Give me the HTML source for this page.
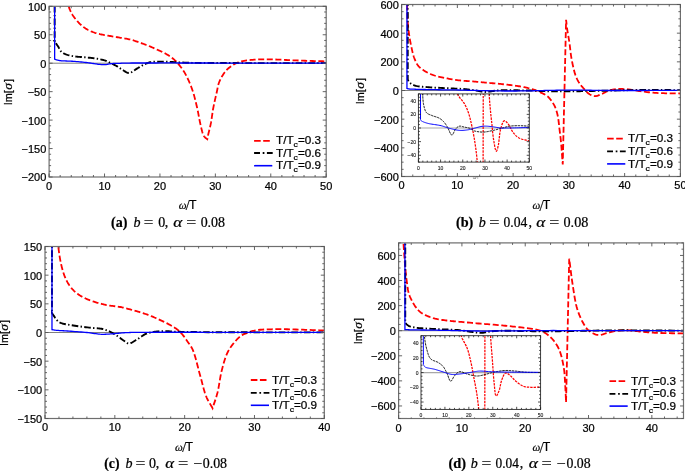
<!DOCTYPE html><html><head><meta charset="utf-8"><style>html,body{margin:0;padding:0;background:#fff;}svg{display:block;will-change:transform;}text{font-family:"Liberation Sans",sans-serif;fill:#000;stroke:#000;stroke-width:0.22px;}</style></head><body>
<svg width="685" height="471" viewBox="0 0 685 471">
<rect width="685" height="471" fill="#fff"/>
<clipPath id="c0"><rect x="49.10" y="6.30" width="277.10" height="170.70"/></clipPath>
<line x1="49.10" y1="63.20" x2="326.20" y2="63.20" stroke="#808080" stroke-width="1.00"/>
<g clip-path="url(#c0)" fill="none">
<path d="M64.06 -27.84 L64.28 -25.53 L64.49 -23.16 L64.69 -20.76 L64.89 -18.35 L65.09 -15.96 L65.30 -13.61 L65.52 -11.32 L65.75 -9.12 L66.01 -7.03 L66.28 -5.08 L66.49 -3.76 L66.69 -2.50 L66.90 -1.27 L67.12 -0.09 L67.34 1.05 L67.58 2.16 L67.83 3.23 L68.09 4.28 L68.37 5.30 L68.66 6.30 L68.92 7.09 L69.18 7.85 L69.45 8.59 L69.73 9.31 L70.02 10.01 L70.31 10.69 L70.62 11.36 L70.94 12.02 L71.26 12.66 L71.60 13.30 L71.91 13.86 L72.23 14.41 L72.56 14.94 L72.90 15.46 L73.24 15.97 L73.59 16.47 L73.95 16.97 L74.32 17.47 L74.70 17.97 L75.09 18.48 L75.52 19.02 L75.95 19.56 L76.40 20.10 L76.86 20.64 L77.33 21.18 L77.80 21.71 L78.29 22.24 L78.78 22.76 L79.29 23.27 L79.80 23.77 L80.34 24.28 L80.89 24.78 L81.44 25.28 L82.01 25.77 L82.59 26.26 L83.17 26.73 L83.77 27.19 L84.38 27.64 L84.99 28.07 L85.62 28.49 L86.27 28.90 L86.94 29.29 L87.61 29.67 L88.30 30.04 L88.99 30.39 L89.70 30.73 L90.41 31.05 L91.14 31.37 L91.87 31.67 L92.60 31.96 L93.38 32.25 L94.18 32.52 L94.98 32.78 L95.79 33.02 L96.61 33.25 L97.44 33.47 L98.27 33.69 L99.11 33.89 L99.96 34.10 L100.81 34.29 L101.70 34.50 L102.61 34.69 L103.52 34.86 L104.43 35.03 L105.36 35.20 L106.28 35.36 L107.22 35.52 L108.16 35.68 L109.11 35.84 L110.06 36.00 L111.09 36.18 L112.13 36.36 L113.19 36.53 L114.25 36.71 L115.32 36.88 L116.39 37.06 L117.45 37.24 L118.51 37.41 L119.56 37.59 L120.59 37.77 L121.56 37.93 L122.52 38.09 L123.47 38.24 L124.42 38.39 L125.36 38.55 L126.30 38.71 L127.23 38.88 L128.16 39.06 L129.09 39.26 L130.01 39.47 L130.92 39.70 L131.81 39.95 L132.69 40.21 L133.57 40.48 L134.45 40.76 L135.33 41.05 L136.21 41.34 L137.09 41.65 L137.98 41.95 L138.88 42.26 L139.84 42.59 L140.81 42.94 L141.79 43.29 L142.77 43.64 L143.75 44.01 L144.74 44.38 L145.72 44.75 L146.70 45.13 L147.67 45.51 L148.63 45.90 L149.58 46.29 L150.53 46.69 L151.47 47.09 L152.41 47.50 L153.35 47.91 L154.28 48.33 L155.21 48.75 L156.13 49.16 L157.04 49.58 L157.94 50.00 L158.79 50.39 L159.64 50.77 L160.48 51.16 L161.31 51.54 L162.14 51.93 L162.96 52.32 L163.78 52.71 L164.58 53.12 L165.37 53.55 L166.15 53.98 L166.89 54.42 L167.63 54.86 L168.36 55.32 L169.09 55.78 L169.81 56.25 L170.51 56.73 L171.19 57.21 L171.86 57.71 L172.51 58.20 L173.13 58.70 L173.66 59.16 L174.17 59.61 L174.67 60.07 L175.14 60.54 L175.61 61.01 L176.07 61.48 L176.52 61.96 L176.96 62.44 L177.40 62.93 L177.84 63.43 L178.28 63.92 L178.70 64.42 L179.12 64.92 L179.54 65.43 L179.95 65.94 L180.35 66.45 L180.75 66.98 L181.15 67.51 L181.55 68.05 L181.94 68.61 L182.36 69.20 L182.77 69.79 L183.17 70.39 L183.57 70.99 L183.97 71.60 L184.37 72.23 L184.77 72.89 L185.17 73.59 L185.57 74.32 L185.99 75.09 L186.61 76.31 L187.25 77.62 L187.92 79.02 L188.59 80.49 L189.26 82.01 L189.92 83.57 L190.57 85.16 L191.20 86.76 L191.80 88.36 L192.36 89.94 L192.92 91.63 L193.46 93.36 L193.97 95.11 L194.46 96.88 L194.93 98.67 L195.38 100.47 L195.82 102.26 L196.24 104.05 L196.66 105.83 L197.07 107.58 L197.45 109.26 L197.81 110.96 L198.14 112.67 L198.47 114.37 L198.78 116.07 L199.10 117.74 L199.41 119.39 L199.73 121.00 L200.05 122.57 L200.40 124.08 L200.69 125.33 L200.98 126.59 L201.26 127.86 L201.56 129.11 L201.85 130.32 L202.15 131.49 L202.46 132.58 L202.78 133.58 L203.10 134.47 L203.44 135.24 L203.63 135.58 L203.81 135.90 L204.00 136.18 L204.19 136.45 L204.38 136.69 L204.58 136.91 L204.78 137.13 L204.98 137.33 L205.18 137.54 L205.38 137.74 L205.56 137.91 L205.75 138.07 L205.94 138.22 L206.12 138.36 L206.31 138.49 L206.51 138.63 L206.70 138.76 L206.89 138.89 L207.08 139.02 L207.27 139.16 L207.27 139.16 L207.33 138.86 L207.38 138.57 L207.43 138.29 L207.49 138.01 L207.54 137.73 L207.59 137.44 L207.65 137.13 L207.72 136.79 L207.79 136.43 L207.88 136.03 L208.09 135.09 L208.35 134.00 L208.64 132.78 L208.97 131.47 L209.31 130.09 L209.66 128.66 L210.00 127.20 L210.34 125.75 L210.65 124.32 L210.93 122.94 L211.18 121.55 L211.41 120.16 L211.63 118.76 L211.83 117.35 L212.03 115.94 L212.23 114.51 L212.43 113.08 L212.65 111.64 L212.88 110.18 L213.14 108.72 L213.46 107.10 L213.79 105.43 L214.15 103.73 L214.52 102.01 L214.90 100.29 L215.28 98.59 L215.66 96.91 L216.04 95.28 L216.40 93.71 L216.75 92.22 L216.99 91.09 L217.21 90.01 L217.41 88.96 L217.61 87.94 L217.80 86.93 L218.02 85.94 L218.26 84.96 L218.53 83.97 L218.86 82.98 L219.24 81.98 L219.73 80.83 L220.28 79.65 L220.88 78.46 L221.53 77.27 L222.21 76.08 L222.91 74.93 L223.64 73.81 L224.39 72.74 L225.14 71.74 L225.89 70.82 L226.51 70.13 L227.14 69.48 L227.79 68.87 L228.44 68.29 L229.11 67.74 L229.79 67.21 L230.47 66.71 L231.16 66.23 L231.85 65.76 L232.54 65.31 L233.17 64.90 L233.80 64.51 L234.41 64.14 L235.04 63.79 L235.66 63.46 L236.31 63.14 L236.98 62.84 L237.68 62.55 L238.41 62.27 L239.19 62.01 L240.31 61.67 L241.49 61.37 L242.73 61.10 L244.03 60.85 L245.37 60.63 L246.74 60.43 L248.15 60.25 L249.58 60.08 L251.03 59.93 L252.49 59.79 L254.28 59.64 L256.14 59.53 L258.06 59.45 L260.02 59.39 L262.01 59.35 L264.01 59.34 L266.02 59.34 L268.01 59.35 L269.97 59.37 L271.89 59.39 L273.70 59.42 L275.49 59.48 L277.28 59.55 L279.05 59.63 L280.82 59.72 L282.59 59.82 L284.35 59.92 L286.11 60.02 L287.86 60.11 L289.62 60.18 L291.35 60.25 L293.06 60.32 L294.76 60.39 L296.46 60.45 L298.16 60.51 L299.87 60.57 L301.58 60.63 L303.30 60.69 L305.04 60.75 L306.80 60.81 L308.69 60.87 L310.61 60.93 L312.54 60.99 L314.48 61.04 L316.43 61.10 L318.38 61.16 L320.34 61.21 L322.30 61.27 L324.25 61.32 L326.20 61.38" stroke="#ff0000" stroke-width="1.80" stroke-dasharray="6 2.6"/>
<path d="M54.64 -164.40 L54.64 41.29 L54.48 41.29 L54.84 41.82 L55.22 42.34 L55.59 42.86 L55.96 43.38 L56.34 43.91 L56.71 44.43 L57.07 44.95 L57.43 45.48 L57.79 46.00 L58.13 46.53 L58.45 47.05 L58.75 47.59 L59.03 48.14 L59.31 48.69 L59.59 49.24 L59.87 49.77 L60.16 50.29 L60.48 50.78 L60.81 51.24 L61.18 51.65 L61.53 51.98 L61.89 52.29 L62.26 52.57 L62.64 52.83 L63.04 53.07 L63.45 53.30 L63.88 53.52 L64.33 53.73 L64.80 53.94 L65.28 54.15 L65.97 54.42 L66.70 54.68 L67.46 54.92 L68.27 55.15 L69.09 55.36 L69.94 55.57 L70.81 55.76 L71.68 55.93 L72.56 56.10 L73.43 56.26 L74.41 56.41 L75.41 56.54 L76.43 56.65 L77.46 56.75 L78.50 56.83 L79.55 56.90 L80.61 56.98 L81.66 57.05 L82.70 57.13 L83.74 57.23 L84.76 57.32 L85.80 57.42 L86.84 57.51 L87.88 57.60 L88.91 57.69 L89.94 57.79 L90.96 57.89 L91.97 58.00 L92.96 58.12 L93.93 58.25 L94.80 58.37 L95.67 58.50 L96.53 58.64 L97.38 58.78 L98.22 58.92 L99.04 59.07 L99.85 59.23 L100.64 59.39 L101.40 59.56 L102.14 59.73 L102.71 59.87 L103.26 60.01 L103.81 60.16 L104.33 60.31 L104.85 60.46 L105.36 60.62 L105.85 60.78 L106.34 60.95 L106.82 61.13 L107.29 61.32 L107.70 61.50 L108.10 61.69 L108.48 61.88 L108.85 62.08 L109.22 62.29 L109.59 62.50 L109.96 62.71 L110.35 62.93 L110.75 63.15 L111.17 63.37 L111.73 63.65 L112.31 63.93 L112.92 64.22 L113.55 64.51 L114.18 64.81 L114.82 65.12 L115.45 65.43 L116.08 65.74 L116.68 66.06 L117.27 66.39 L117.79 66.70 L118.29 67.02 L118.78 67.35 L119.26 67.69 L119.74 68.03 L120.22 68.37 L120.70 68.71 L121.20 69.04 L121.72 69.37 L122.25 69.69 L122.89 70.07 L123.55 70.49 L124.22 70.93 L124.92 71.38 L125.62 71.81 L126.33 72.20 L127.04 72.53 L127.76 72.79 L128.47 72.95 L129.18 72.99 L129.95 72.88 L130.72 72.63 L131.50 72.27 L132.29 71.82 L133.07 71.30 L133.86 70.74 L134.64 70.17 L135.41 69.60 L136.18 69.07 L136.94 68.61 L137.65 68.19 L138.36 67.78 L139.06 67.35 L139.75 66.93 L140.44 66.52 L141.13 66.11 L141.82 65.71 L142.50 65.33 L143.19 64.96 L143.87 64.62 L144.48 64.33 L145.07 64.04 L145.66 63.77 L146.25 63.50 L146.83 63.25 L147.43 63.01 L148.03 62.78 L148.65 62.58 L149.29 62.40 L149.96 62.23 L150.79 62.07 L151.64 61.95 L152.52 61.86 L153.42 61.79 L154.33 61.75 L155.27 61.72 L156.21 61.70 L157.17 61.69 L158.14 61.68 L159.11 61.66 L160.21 61.65 L161.33 61.65 L162.45 61.67 L163.59 61.69 L164.75 61.72 L165.92 61.76 L167.12 61.81 L168.34 61.85 L169.58 61.90 L170.86 61.95 L172.46 62.01 L174.11 62.08 L175.81 62.17 L177.54 62.26 L179.31 62.35 L181.09 62.44 L182.88 62.53 L184.67 62.61 L186.45 62.69 L188.20 62.74 L189.94 62.79 L191.63 62.83 L193.31 62.86 L194.97 62.88 L196.65 62.90 L198.37 62.92 L200.14 62.93 L201.97 62.94 L203.90 62.96 L205.94 62.97 L209.04 62.99 L212.26 63.01 L215.62 63.03 L219.11 63.04 L222.73 63.05 L226.50 63.06 L230.42 63.07 L234.48 63.07 L238.70 63.08 L243.07 63.09 L250.04 63.09 L257.58 63.10 L265.58 63.10 L273.94 63.10 L282.57 63.10 L291.36 63.10 L300.22 63.09 L309.05 63.09 L317.74 63.09 L326.20 63.09" stroke="#000000" stroke-width="1.90" stroke-dasharray="6.6 2.3 1.4 2.3" stroke-dashoffset="6"/>
<path d="M54.64 -164.40 L54.64 59.16 L54.64 59.16 L54.80 59.22 L54.96 59.29 L55.12 59.35 L55.27 59.41 L55.43 59.48 L55.59 59.54 L55.75 59.60 L55.92 59.66 L56.11 59.73 L56.30 59.79 L56.61 59.88 L56.94 59.97 L57.27 60.06 L57.62 60.15 L57.99 60.24 L58.38 60.33 L58.79 60.41 L59.23 60.49 L59.69 60.57 L60.18 60.64 L61.18 60.75 L62.31 60.84 L63.54 60.91 L64.86 60.96 L66.25 61.01 L67.68 61.05 L69.13 61.10 L70.59 61.16 L72.03 61.23 L73.43 61.32 L74.94 61.44 L76.49 61.57 L78.07 61.71 L79.67 61.86 L81.26 62.02 L82.85 62.18 L84.42 62.35 L85.94 62.52 L87.42 62.69 L88.84 62.86 L89.95 63.00 L91.04 63.16 L92.12 63.32 L93.17 63.49 L94.20 63.66 L95.21 63.82 L96.19 63.97 L97.15 64.11 L98.08 64.24 L98.98 64.34 L99.65 64.41 L100.29 64.47 L100.92 64.53 L101.53 64.59 L102.12 64.64 L102.71 64.67 L103.30 64.70 L103.88 64.71 L104.47 64.70 L105.07 64.68 L105.68 64.63 L106.29 64.55 L106.90 64.45 L107.50 64.33 L108.11 64.21 L108.71 64.08 L109.32 63.95 L109.93 63.83 L110.55 63.73 L111.17 63.66 L111.82 63.59 L112.46 63.55 L113.11 63.51 L113.76 63.48 L114.42 63.46 L115.08 63.44 L115.74 63.43 L116.42 63.41 L117.12 63.39 L117.82 63.37 L118.63 63.34 L119.42 63.31 L120.21 63.28 L121.00 63.25 L121.82 63.22 L122.67 63.19 L123.57 63.16 L124.53 63.13 L125.57 63.11 L126.69 63.09 L129.12 63.05 L131.85 63.02 L134.84 63.01 L138.06 62.99 L141.46 62.98 L145.01 62.98 L148.68 62.98 L152.41 62.98 L156.18 62.98 L159.94 62.97 L164.83 62.97 L169.82 62.97 L174.93 62.97 L180.18 62.98 L185.58 62.99 L191.15 63.00 L196.89 63.01 L202.83 63.02 L208.98 63.02 L215.36 63.03 L224.90 63.04 L235.09 63.04 L245.82 63.05 L256.96 63.05 L268.40 63.06 L280.04 63.06 L291.75 63.07 L303.42 63.08 L314.94 63.08 L326.20 63.09" stroke="#0000ff" stroke-width="1.30" />
</g>
<rect x="49.10" y="6.30" width="277.10" height="170.70" fill="none" stroke="#6e6e6e" stroke-width="1.20"/>
<path d="M49.10 177.00v-3.50M49.10 6.30v3.50M60.18 177.00v-2.00M60.18 6.30v2.00M71.27 177.00v-2.00M71.27 6.30v2.00M82.35 177.00v-2.00M82.35 6.30v2.00M93.44 177.00v-2.00M93.44 6.30v2.00M104.52 177.00v-3.50M104.52 6.30v3.50M115.60 177.00v-2.00M115.60 6.30v2.00M126.69 177.00v-2.00M126.69 6.30v2.00M137.77 177.00v-2.00M137.77 6.30v2.00M148.86 177.00v-2.00M148.86 6.30v2.00M159.94 177.00v-3.50M159.94 6.30v3.50M171.02 177.00v-2.00M171.02 6.30v2.00M182.11 177.00v-2.00M182.11 6.30v2.00M193.19 177.00v-2.00M193.19 6.30v2.00M204.28 177.00v-2.00M204.28 6.30v2.00M215.36 177.00v-3.50M215.36 6.30v3.50M226.44 177.00v-2.00M226.44 6.30v2.00M237.53 177.00v-2.00M237.53 6.30v2.00M248.61 177.00v-2.00M248.61 6.30v2.00M259.70 177.00v-2.00M259.70 6.30v2.00M270.78 177.00v-3.50M270.78 6.30v3.50M281.86 177.00v-2.00M281.86 6.30v2.00M292.95 177.00v-2.00M292.95 6.30v2.00M304.03 177.00v-2.00M304.03 6.30v2.00M315.12 177.00v-2.00M315.12 6.30v2.00M326.20 177.00v-3.50M326.20 6.30v3.50M49.10 177.00h3.50M326.20 177.00h-3.50M49.10 171.31h2.00M326.20 171.31h-2.00M49.10 165.62h2.00M326.20 165.62h-2.00M49.10 159.93h2.00M326.20 159.93h-2.00M49.10 154.24h2.00M326.20 154.24h-2.00M49.10 148.55h3.50M326.20 148.55h-3.50M49.10 142.86h2.00M326.20 142.86h-2.00M49.10 137.17h2.00M326.20 137.17h-2.00M49.10 131.48h2.00M326.20 131.48h-2.00M49.10 125.79h2.00M326.20 125.79h-2.00M49.10 120.10h3.50M326.20 120.10h-3.50M49.10 114.41h2.00M326.20 114.41h-2.00M49.10 108.72h2.00M326.20 108.72h-2.00M49.10 103.03h2.00M326.20 103.03h-2.00M49.10 97.34h2.00M326.20 97.34h-2.00M49.10 91.65h3.50M326.20 91.65h-3.50M49.10 85.96h2.00M326.20 85.96h-2.00M49.10 80.27h2.00M326.20 80.27h-2.00M49.10 74.58h2.00M326.20 74.58h-2.00M49.10 68.89h2.00M326.20 68.89h-2.00M49.10 63.20h3.50M326.20 63.20h-3.50M49.10 57.51h2.00M326.20 57.51h-2.00M49.10 51.82h2.00M326.20 51.82h-2.00M49.10 46.13h2.00M326.20 46.13h-2.00M49.10 40.44h2.00M326.20 40.44h-2.00M49.10 34.75h3.50M326.20 34.75h-3.50M49.10 29.06h2.00M326.20 29.06h-2.00M49.10 23.37h2.00M326.20 23.37h-2.00M49.10 17.68h2.00M326.20 17.68h-2.00M49.10 11.99h2.00M326.20 11.99h-2.00M49.10 6.30h3.50M326.20 6.30h-3.50" stroke="#555" stroke-width="0.90" fill="none"/>
<text x="49.10" y="190.30" text-anchor="middle" font-size="11.00">0</text>
<text x="104.52" y="190.30" text-anchor="middle" font-size="11.00">10</text>
<text x="159.94" y="190.30" text-anchor="middle" font-size="11.00">20</text>
<text x="215.36" y="190.30" text-anchor="middle" font-size="11.00">30</text>
<text x="270.78" y="190.30" text-anchor="middle" font-size="11.00">40</text>
<text x="326.20" y="190.30" text-anchor="middle" font-size="11.00">50</text>
<text x="46.30" y="181.46" text-anchor="end" font-size="11.00">−200</text>
<text x="46.30" y="153.01" text-anchor="end" font-size="11.00">−150</text>
<text x="46.30" y="124.56" text-anchor="end" font-size="11.00">−100</text>
<text x="46.30" y="96.11" text-anchor="end" font-size="11.00">−50</text>
<text x="46.30" y="67.66" text-anchor="end" font-size="11.00">0</text>
<text x="46.30" y="39.21" text-anchor="end" font-size="11.00">50</text>
<text x="46.30" y="10.76" text-anchor="end" font-size="11.00">100</text>
<clipPath id="c1"><rect x="401.60" y="4.50" width="278.80" height="172.00"/></clipPath>
<line x1="401.60" y1="90.50" x2="680.40" y2="90.50" stroke="#808080" stroke-width="1.00"/>
<g clip-path="url(#c1)" fill="none">
<path d="M406.90 -38.50 L406.92 -34.11 L406.94 -29.57 L406.96 -24.95 L406.98 -20.30 L407.00 -15.70 L407.02 -11.20 L407.05 -6.87 L407.08 -2.77 L407.13 1.04 L407.18 4.50 L407.21 6.42 L407.23 8.22 L407.26 9.92 L407.28 11.53 L407.31 13.08 L407.35 14.58 L407.39 16.06 L407.45 17.54 L407.53 19.03 L407.62 20.55 L407.73 22.01 L407.84 23.45 L407.97 24.90 L408.11 26.33 L408.26 27.75 L408.42 29.16 L408.59 30.55 L408.76 31.92 L408.94 33.27 L409.13 34.60 L409.30 35.75 L409.47 36.86 L409.64 37.96 L409.82 39.04 L410.01 40.11 L410.21 41.17 L410.41 42.24 L410.62 43.31 L410.85 44.39 L411.08 45.49 L411.33 46.69 L411.59 47.91 L411.85 49.15 L412.12 50.40 L412.41 51.65 L412.70 52.89 L413.02 54.10 L413.35 55.29 L413.71 56.44 L414.09 57.53 L414.43 58.44 L414.78 59.34 L415.13 60.22 L415.50 61.08 L415.88 61.92 L416.28 62.74 L416.71 63.53 L417.16 64.29 L417.64 65.01 L418.16 65.70 L418.67 66.31 L419.21 66.88 L419.78 67.43 L420.37 67.95 L420.97 68.44 L421.60 68.92 L422.24 69.38 L422.90 69.83 L423.56 70.28 L424.24 70.72 L424.97 71.18 L425.71 71.63 L426.47 72.06 L427.24 72.48 L428.02 72.89 L428.83 73.28 L429.66 73.66 L430.50 74.03 L431.37 74.39 L432.27 74.73 L433.36 75.12 L434.49 75.49 L435.65 75.83 L436.84 76.16 L438.06 76.47 L439.30 76.77 L440.56 77.05 L441.84 77.34 L443.13 77.61 L444.42 77.89 L445.92 78.19 L447.46 78.49 L449.03 78.79 L450.63 79.07 L452.25 79.34 L453.86 79.60 L455.48 79.84 L457.07 80.07 L458.63 80.28 L460.15 80.47 L461.48 80.61 L462.79 80.74 L464.08 80.84 L465.35 80.93 L466.62 81.01 L467.88 81.08 L469.14 81.16 L470.41 81.24 L471.69 81.32 L472.97 81.43 L474.30 81.54 L475.64 81.67 L476.98 81.80 L478.32 81.93 L479.66 82.06 L481.01 82.20 L482.35 82.33 L483.69 82.46 L485.03 82.59 L486.36 82.72 L487.65 82.83 L488.93 82.94 L490.21 83.05 L491.49 83.15 L492.77 83.26 L494.04 83.36 L495.32 83.47 L496.60 83.58 L497.89 83.70 L499.18 83.82 L500.51 83.95 L501.86 84.09 L503.23 84.23 L504.59 84.38 L505.95 84.52 L507.31 84.68 L508.66 84.83 L509.98 84.99 L511.29 85.16 L512.56 85.33 L513.67 85.48 L514.76 85.63 L515.84 85.77 L516.90 85.93 L517.95 86.08 L518.99 86.25 L520.03 86.42 L521.06 86.60 L522.11 86.79 L523.16 87.00 L524.23 87.23 L525.33 87.47 L526.43 87.72 L527.54 87.98 L528.64 88.25 L529.73 88.52 L530.79 88.81 L531.82 89.10 L532.81 89.40 L533.75 89.70 L534.46 89.94 L535.14 90.18 L535.79 90.43 L536.43 90.68 L537.05 90.93 L537.66 91.19 L538.26 91.46 L538.87 91.73 L539.48 92.01 L540.11 92.29 L540.77 92.59 L541.44 92.89 L542.12 93.19 L542.80 93.50 L543.48 93.82 L544.15 94.15 L544.79 94.48 L545.42 94.84 L546.02 95.20 L546.58 95.59 L547.03 95.93 L547.47 96.29 L547.88 96.65 L548.27 97.01 L548.65 97.39 L549.01 97.79 L549.38 98.19 L549.74 98.62 L550.11 99.06 L550.48 99.53 L550.95 100.14 L551.42 100.78 L551.90 101.45 L552.38 102.15 L552.84 102.87 L553.30 103.61 L553.74 104.37 L554.17 105.14 L554.57 105.91 L554.94 106.70 L555.30 107.53 L555.64 108.38 L555.96 109.24 L556.26 110.12 L556.54 111.01 L556.80 111.92 L557.05 112.85 L557.28 113.79 L557.51 114.75 L557.73 115.73 L557.96 116.89 L558.17 118.09 L558.36 119.31 L558.52 120.56 L558.68 121.83 L558.82 123.12 L558.96 124.42 L559.10 125.72 L559.25 127.03 L559.40 128.34 L559.58 129.75 L559.75 131.17 L559.93 132.61 L560.11 134.06 L560.28 135.51 L560.45 136.98 L560.62 138.44 L560.78 139.90 L560.93 141.36 L561.07 142.82 L561.21 144.29 L561.34 145.79 L561.46 147.32 L561.58 148.85 L561.69 150.37 L561.80 151.86 L561.90 153.32 L562.00 154.72 L562.10 156.05 L562.19 157.29 L562.25 158.11 L562.31 158.89 L562.37 159.63 L562.43 160.34 L562.48 161.03 L562.53 161.71 L562.59 162.39 L562.64 163.07 L562.69 163.75 L562.75 164.46 L566.09 19.84 L566.09 19.84 L566.20 20.78 L566.30 21.70 L566.41 22.62 L566.51 23.54 L566.61 24.46 L566.71 25.40 L566.82 26.34 L566.94 27.30 L567.07 28.28 L567.21 29.30 L567.39 30.55 L567.60 31.84 L567.82 33.17 L568.06 34.52 L568.30 35.89 L568.54 37.27 L568.78 38.66 L569.01 40.04 L569.23 41.41 L569.44 42.77 L569.62 44.11 L569.79 45.46 L569.95 46.81 L570.11 48.16 L570.26 49.51 L570.41 50.85 L570.57 52.19 L570.74 53.51 L570.91 54.81 L571.11 56.10 L571.30 57.28 L571.50 58.44 L571.71 59.60 L571.92 60.75 L572.14 61.89 L572.36 63.02 L572.59 64.13 L572.83 65.24 L573.08 66.34 L573.34 67.42 L573.59 68.43 L573.83 69.43 L574.08 70.44 L574.33 71.43 L574.60 72.41 L574.87 73.38 L575.16 74.32 L575.46 75.25 L575.79 76.15 L576.13 77.03 L576.44 77.77 L576.77 78.49 L577.11 79.19 L577.46 79.88 L577.83 80.56 L578.20 81.22 L578.58 81.87 L578.98 82.51 L579.39 83.14 L579.81 83.76 L580.23 84.36 L580.67 84.95 L581.12 85.53 L581.58 86.10 L582.06 86.66 L582.54 87.21 L583.02 87.75 L583.51 88.29 L584.00 88.82 L584.49 89.35 L584.97 89.88 L585.45 90.41 L585.93 90.95 L586.42 91.49 L586.91 92.01 L587.40 92.52 L587.91 93.00 L588.43 93.45 L588.96 93.86 L589.51 94.23 L590.03 94.53 L590.57 94.81 L591.11 95.08 L591.67 95.32 L592.24 95.53 L592.81 95.71 L593.38 95.86 L593.95 95.98 L594.52 96.06 L595.09 96.09 L595.64 96.08 L596.19 96.01 L596.73 95.91 L597.28 95.77 L597.83 95.60 L598.38 95.40 L598.94 95.19 L599.50 94.97 L600.08 94.74 L600.66 94.51 L601.40 94.21 L602.16 93.86 L602.93 93.48 L603.72 93.07 L604.52 92.64 L605.32 92.22 L606.12 91.81 L606.91 91.43 L607.70 91.08 L608.47 90.79 L609.14 90.56 L609.80 90.34 L610.46 90.15 L611.10 89.97 L611.75 89.81 L612.40 89.67 L613.07 89.53 L613.75 89.41 L614.44 89.31 L615.16 89.21 L616.05 89.12 L616.98 89.05 L617.94 89.00 L618.93 88.97 L619.92 88.96 L620.91 88.97 L621.89 88.98 L622.85 89.01 L623.77 89.03 L624.64 89.07 L625.30 89.10 L625.93 89.13 L626.53 89.17 L627.11 89.22 L627.69 89.28 L628.27 89.34 L628.86 89.40 L629.46 89.48 L630.10 89.55 L630.77 89.64 L631.71 89.77 L632.68 89.92 L633.68 90.09 L634.72 90.27 L635.77 90.45 L636.86 90.65 L637.96 90.84 L639.08 91.02 L640.22 91.20 L641.37 91.36 L642.75 91.54 L644.15 91.72 L645.58 91.90 L647.03 92.07 L648.51 92.24 L650.02 92.40 L651.56 92.55 L653.14 92.69 L654.76 92.82 L656.42 92.94 L658.59 93.06 L660.86 93.15 L663.20 93.22 L665.61 93.28 L668.06 93.32 L670.54 93.36 L673.03 93.39 L675.52 93.42 L677.98 93.46 L680.40 93.51" stroke="#ff0000" stroke-width="1.80" stroke-dasharray="6 2.6"/>
<path d="M407.73 -38.50 L407.73 79.61 L407.73 79.61 L407.84 79.81 L407.94 80.01 L408.04 80.21 L408.14 80.42 L408.24 80.62 L408.35 80.82 L408.46 81.02 L408.58 81.22 L408.71 81.42 L408.85 81.61 L409.03 81.84 L409.21 82.06 L409.40 82.29 L409.60 82.51 L409.82 82.73 L410.04 82.95 L410.28 83.16 L410.53 83.37 L410.80 83.57 L411.08 83.76 L411.47 84.02 L411.89 84.26 L412.32 84.50 L412.78 84.73 L413.26 84.95 L413.77 85.16 L414.31 85.36 L414.87 85.56 L415.47 85.74 L416.10 85.91 L417.20 86.16 L418.42 86.37 L419.73 86.55 L421.12 86.69 L422.58 86.82 L424.09 86.93 L425.63 87.04 L427.19 87.13 L428.76 87.24 L430.32 87.35 L432.20 87.48 L434.16 87.60 L436.18 87.70 L438.24 87.80 L440.33 87.90 L442.41 87.99 L444.48 88.08 L446.52 88.16 L448.49 88.25 L450.39 88.35 L451.97 88.43 L453.54 88.51 L455.09 88.58 L456.62 88.65 L458.13 88.73 L459.60 88.80 L461.05 88.89 L462.46 88.97 L463.83 89.07 L465.17 89.18 L466.20 89.28 L467.19 89.38 L468.14 89.48 L469.08 89.59 L469.99 89.70 L470.90 89.81 L471.81 89.93 L472.74 90.06 L473.68 90.18 L474.65 90.31 L475.73 90.48 L476.83 90.67 L477.95 90.88 L479.09 91.11 L480.22 91.32 L481.36 91.53 L482.49 91.71 L483.61 91.85 L484.71 91.95 L485.80 91.99 L486.78 91.97 L487.75 91.89 L488.71 91.78 L489.66 91.63 L490.60 91.46 L491.54 91.29 L492.48 91.11 L493.41 90.94 L494.34 90.80 L495.28 90.69 L496.17 90.60 L497.05 90.52 L497.91 90.45 L498.78 90.38 L499.64 90.32 L500.51 90.27 L501.40 90.23 L502.30 90.19 L503.23 90.15 L504.20 90.13 L505.43 90.11 L506.70 90.10 L508.01 90.11 L509.34 90.13 L510.70 90.15 L512.08 90.19 L513.46 90.22 L514.84 90.26 L516.22 90.29 L517.58 90.31 L518.98 90.34 L520.39 90.36 L521.83 90.38 L523.27 90.41 L524.70 90.43 L526.12 90.46 L527.53 90.49 L528.90 90.52 L530.23 90.56 L531.52 90.60 L532.52 90.64 L533.47 90.68 L534.37 90.73 L535.25 90.78 L536.12 90.84 L537.00 90.89 L537.91 90.94 L538.87 90.99 L539.89 91.03 L541.00 91.07 L542.89 91.13 L544.94 91.17 L547.14 91.22 L549.44 91.26 L551.83 91.29 L554.26 91.31 L556.71 91.33 L559.15 91.35 L561.54 91.36 L563.86 91.36 L566.10 91.36 L568.34 91.34 L570.57 91.32 L572.80 91.30 L575.03 91.26 L577.26 91.23 L579.48 91.19 L581.71 91.15 L583.94 91.11 L586.17 91.07 L588.40 91.03 L590.63 90.99 L592.86 90.95 L595.09 90.90 L597.32 90.85 L599.55 90.80 L601.78 90.75 L604.01 90.70 L606.24 90.65 L608.47 90.60 L610.70 90.55 L612.93 90.50 L615.15 90.45 L617.38 90.39 L619.60 90.34 L621.83 90.29 L624.06 90.24 L626.30 90.20 L628.53 90.16 L630.77 90.13 L633.04 90.10 L635.30 90.08 L637.55 90.06 L639.81 90.04 L642.07 90.03 L644.35 90.03 L646.64 90.02 L648.94 90.02 L651.27 90.01 L653.64 90.01 L656.23 90.01 L658.85 90.02 L661.51 90.03 L664.19 90.04 L666.89 90.05 L669.59 90.07 L672.30 90.09 L675.01 90.10 L677.71 90.11 L680.40 90.13" stroke="#000000" stroke-width="1.90" stroke-dasharray="6.6 2.3 1.4 2.3"/>
<path d="M406.95 -38.50 L406.95 88.44 L406.95 88.44 L407.14 88.49 L407.32 88.54 L407.50 88.59 L407.67 88.64 L407.85 88.70 L408.03 88.75 L408.22 88.80 L408.42 88.84 L408.63 88.88 L408.85 88.92 L409.19 88.97 L409.55 89.01 L409.92 89.04 L410.30 89.07 L410.71 89.09 L411.14 89.11 L411.58 89.12 L412.06 89.14 L412.56 89.16 L413.09 89.18 L414.11 89.22 L415.22 89.26 L416.42 89.30 L417.70 89.34 L419.05 89.38 L420.47 89.41 L421.95 89.45 L423.48 89.48 L425.07 89.52 L426.69 89.55 L429.37 89.60 L432.34 89.65 L435.52 89.69 L438.86 89.74 L442.29 89.78 L445.75 89.82 L449.16 89.86 L452.46 89.91 L455.59 89.96 L458.48 90.01 L460.50 90.06 L462.42 90.10 L464.25 90.15 L466.02 90.20 L467.76 90.25 L469.49 90.31 L471.25 90.36 L473.04 90.41 L474.91 90.45 L476.88 90.50 L479.40 90.56 L482.03 90.62 L484.75 90.67 L487.53 90.73 L490.35 90.79 L493.19 90.84 L496.01 90.89 L498.80 90.93 L501.54 90.97 L504.20 90.99 L506.59 91.00 L509.00 91.00 L511.40 91.00 L513.78 90.99 L516.14 90.98 L518.45 90.96 L520.71 90.94 L522.91 90.92 L525.03 90.90 L527.06 90.87 L528.53 90.85 L529.91 90.83 L531.22 90.81 L532.49 90.78 L533.74 90.75 L534.99 90.72 L536.27 90.69 L537.58 90.66 L538.97 90.63 L540.44 90.60 L542.52 90.56 L544.72 90.50 L547.01 90.45 L549.37 90.39 L551.78 90.34 L554.22 90.28 L556.67 90.23 L559.11 90.19 L561.51 90.15 L563.86 90.13 L566.11 90.11 L568.36 90.11 L570.59 90.11 L572.82 90.11 L575.05 90.12 L577.27 90.14 L579.49 90.16 L581.71 90.17 L583.94 90.19 L586.17 90.21 L588.40 90.24 L590.63 90.26 L592.87 90.29 L595.10 90.33 L597.34 90.36 L599.57 90.40 L601.80 90.43 L604.03 90.46 L606.25 90.48 L608.47 90.50 L610.62 90.51 L612.69 90.52 L614.73 90.52 L616.76 90.52 L618.80 90.52 L620.89 90.52 L623.04 90.51 L625.30 90.51 L627.68 90.50 L630.22 90.50 L634.40 90.49 L638.93 90.49 L643.75 90.48 L648.80 90.47 L654.02 90.46 L659.33 90.45 L664.69 90.43 L670.03 90.42 L675.29 90.41 L680.40 90.40" stroke="#0000ff" stroke-width="1.30" />
</g>
<rect x="401.60" y="4.50" width="278.80" height="172.00" fill="none" stroke="#6e6e6e" stroke-width="1.20"/>
<path d="M401.60 176.50v-3.50M401.60 4.50v3.50M412.75 176.50v-2.00M412.75 4.50v2.00M423.90 176.50v-2.00M423.90 4.50v2.00M435.06 176.50v-2.00M435.06 4.50v2.00M446.21 176.50v-2.00M446.21 4.50v2.00M457.36 176.50v-3.50M457.36 4.50v3.50M468.51 176.50v-2.00M468.51 4.50v2.00M479.66 176.50v-2.00M479.66 4.50v2.00M490.82 176.50v-2.00M490.82 4.50v2.00M501.97 176.50v-2.00M501.97 4.50v2.00M513.12 176.50v-3.50M513.12 4.50v3.50M524.27 176.50v-2.00M524.27 4.50v2.00M535.42 176.50v-2.00M535.42 4.50v2.00M546.58 176.50v-2.00M546.58 4.50v2.00M557.73 176.50v-2.00M557.73 4.50v2.00M568.88 176.50v-3.50M568.88 4.50v3.50M580.03 176.50v-2.00M580.03 4.50v2.00M591.18 176.50v-2.00M591.18 4.50v2.00M602.34 176.50v-2.00M602.34 4.50v2.00M613.49 176.50v-2.00M613.49 4.50v2.00M624.64 176.50v-3.50M624.64 4.50v3.50M635.79 176.50v-2.00M635.79 4.50v2.00M646.94 176.50v-2.00M646.94 4.50v2.00M658.10 176.50v-2.00M658.10 4.50v2.00M669.25 176.50v-2.00M669.25 4.50v2.00M680.40 176.50v-3.50M680.40 4.50v3.50M401.60 176.50h3.50M680.40 176.50h-3.50M401.60 169.33h2.00M680.40 169.33h-2.00M401.60 162.17h2.00M680.40 162.17h-2.00M401.60 155.00h2.00M680.40 155.00h-2.00M401.60 147.83h3.50M680.40 147.83h-3.50M401.60 140.67h2.00M680.40 140.67h-2.00M401.60 133.50h2.00M680.40 133.50h-2.00M401.60 126.33h2.00M680.40 126.33h-2.00M401.60 119.17h3.50M680.40 119.17h-3.50M401.60 112.00h2.00M680.40 112.00h-2.00M401.60 104.83h2.00M680.40 104.83h-2.00M401.60 97.67h2.00M680.40 97.67h-2.00M401.60 90.50h3.50M680.40 90.50h-3.50M401.60 83.33h2.00M680.40 83.33h-2.00M401.60 76.17h2.00M680.40 76.17h-2.00M401.60 69.00h2.00M680.40 69.00h-2.00M401.60 61.83h3.50M680.40 61.83h-3.50M401.60 54.67h2.00M680.40 54.67h-2.00M401.60 47.50h2.00M680.40 47.50h-2.00M401.60 40.33h2.00M680.40 40.33h-2.00M401.60 33.17h3.50M680.40 33.17h-3.50M401.60 26.00h2.00M680.40 26.00h-2.00M401.60 18.83h2.00M680.40 18.83h-2.00M401.60 11.67h2.00M680.40 11.67h-2.00M401.60 4.50h3.50M680.40 4.50h-3.50" stroke="#555" stroke-width="0.90" fill="none"/>
<text x="401.60" y="189.00" text-anchor="middle" font-size="11.00">0</text>
<text x="457.36" y="189.00" text-anchor="middle" font-size="11.00">10</text>
<text x="513.12" y="189.00" text-anchor="middle" font-size="11.00">20</text>
<text x="568.88" y="189.00" text-anchor="middle" font-size="11.00">30</text>
<text x="624.64" y="189.00" text-anchor="middle" font-size="11.00">40</text>
<text x="680.40" y="189.00" text-anchor="middle" font-size="11.00">50</text>
<text x="398.80" y="180.96" text-anchor="end" font-size="11.00">−600</text>
<text x="398.80" y="152.29" text-anchor="end" font-size="11.00">−400</text>
<text x="398.80" y="123.63" text-anchor="end" font-size="11.00">−200</text>
<text x="398.80" y="94.96" text-anchor="end" font-size="11.00">0</text>
<text x="398.80" y="66.29" text-anchor="end" font-size="11.00">200</text>
<text x="398.80" y="37.63" text-anchor="end" font-size="11.00">400</text>
<text x="398.80" y="8.96" text-anchor="end" font-size="11.00">600</text>
<clipPath id="c2"><rect x="45.00" y="246.50" width="279.30" height="172.00"/></clipPath>
<line x1="45.00" y1="332.50" x2="324.30" y2="332.50" stroke="#808080" stroke-width="1.00"/>
<g clip-path="url(#c2)" fill="none">
<path d="M56.17 221.50 L56.28 222.96 L56.38 224.43 L56.48 225.91 L56.58 227.40 L56.68 228.87 L56.79 230.34 L56.89 231.79 L57.00 233.21 L57.11 234.60 L57.22 235.95 L57.32 237.06 L57.41 238.15 L57.51 239.21 L57.61 240.26 L57.71 241.29 L57.81 242.31 L57.92 243.32 L58.03 244.34 L58.15 245.36 L58.27 246.39 L58.39 247.41 L58.52 248.45 L58.65 249.49 L58.79 250.53 L58.93 251.57 L59.07 252.60 L59.21 253.61 L59.36 254.61 L59.51 255.59 L59.66 256.53 L59.79 257.32 L59.92 258.09 L60.05 258.83 L60.18 259.57 L60.31 260.29 L60.45 261.01 L60.59 261.73 L60.74 262.45 L60.90 263.19 L61.06 263.93 L61.24 264.73 L61.43 265.54 L61.63 266.36 L61.83 267.19 L62.04 268.02 L62.26 268.84 L62.48 269.65 L62.70 270.44 L62.93 271.21 L63.15 271.96 L63.35 272.57 L63.55 273.17 L63.74 273.76 L63.94 274.34 L64.14 274.90 L64.35 275.46 L64.56 276.02 L64.78 276.57 L65.01 277.13 L65.25 277.69 L65.50 278.26 L65.75 278.83 L66.01 279.39 L66.28 279.96 L66.56 280.52 L66.84 281.08 L67.13 281.63 L67.42 282.18 L67.73 282.72 L68.04 283.25 L68.36 283.77 L68.68 284.28 L69.01 284.79 L69.35 285.30 L69.70 285.79 L70.05 286.29 L70.41 286.77 L70.78 287.25 L71.15 287.72 L71.53 288.18 L71.92 288.63 L72.31 289.07 L72.72 289.51 L73.13 289.94 L73.54 290.36 L73.96 290.78 L74.39 291.19 L74.83 291.59 L75.27 291.98 L75.72 292.37 L76.18 292.75 L76.64 293.12 L77.11 293.49 L77.59 293.84 L78.07 294.19 L78.56 294.54 L79.06 294.88 L79.57 295.21 L80.08 295.54 L80.61 295.86 L81.20 296.21 L81.79 296.55 L82.40 296.89 L83.03 297.22 L83.66 297.55 L84.30 297.87 L84.94 298.18 L85.59 298.48 L86.24 298.78 L86.90 299.07 L87.57 299.37 L88.26 299.65 L88.95 299.93 L89.65 300.21 L90.35 300.47 L91.05 300.73 L91.76 300.99 L92.47 301.23 L93.17 301.48 L93.88 301.71 L94.57 301.94 L95.27 302.16 L95.96 302.37 L96.66 302.58 L97.36 302.78 L98.06 302.97 L98.76 303.16 L99.46 303.35 L100.16 303.54 L100.86 303.72 L101.55 303.90 L102.22 304.07 L102.89 304.24 L103.55 304.40 L104.22 304.56 L104.90 304.72 L105.60 304.88 L106.31 305.03 L107.06 305.18 L107.84 305.32 L108.93 305.50 L110.09 305.67 L111.29 305.82 L112.53 305.96 L113.80 306.10 L115.09 306.24 L116.38 306.40 L117.67 306.57 L118.95 306.77 L120.20 306.99 L121.46 307.24 L122.72 307.51 L123.97 307.80 L125.23 308.11 L126.49 308.43 L127.74 308.76 L129.00 309.10 L130.26 309.45 L131.51 309.79 L132.77 310.14 L134.05 310.49 L135.33 310.85 L136.61 311.21 L137.89 311.57 L139.18 311.94 L140.46 312.33 L141.74 312.72 L143.01 313.13 L144.28 313.55 L145.55 313.98 L146.82 314.44 L148.10 314.92 L149.38 315.41 L150.66 315.91 L151.93 316.43 L153.20 316.95 L154.45 317.48 L155.69 318.02 L156.91 318.55 L158.12 319.08 L159.22 319.58 L160.31 320.08 L161.40 320.59 L162.48 321.10 L163.55 321.61 L164.60 322.13 L165.63 322.64 L166.64 323.16 L167.63 323.67 L168.59 324.19 L169.40 324.62 L170.21 325.06 L171.00 325.49 L171.77 325.92 L172.53 326.35 L173.27 326.79 L174.00 327.23 L174.71 327.67 L175.39 328.13 L176.06 328.60 L176.63 329.02 L177.17 329.43 L177.70 329.84 L178.20 330.26 L178.70 330.68 L179.19 331.12 L179.68 331.57 L180.16 332.04 L180.66 332.54 L181.16 333.07 L181.79 333.78 L182.43 334.54 L183.08 335.33 L183.72 336.17 L184.36 337.02 L185.00 337.90 L185.63 338.78 L186.24 339.66 L186.85 340.53 L187.44 341.39 L188.00 342.18 L188.55 342.95 L189.09 343.69 L189.63 344.44 L190.15 345.19 L190.67 345.97 L191.18 346.80 L191.68 347.69 L192.18 348.65 L192.68 349.70 L193.48 351.65 L194.25 353.85 L195.01 356.26 L195.75 358.84 L196.48 361.53 L197.19 364.28 L197.90 367.04 L198.61 369.77 L199.31 372.41 L200.01 374.93 L200.65 377.20 L201.26 379.51 L201.86 381.82 L202.45 384.12 L203.04 386.39 L203.64 388.62 L204.26 390.79 L204.90 392.87 L205.58 394.85 L206.30 396.71 L206.87 398.04 L207.47 399.29 L208.09 400.48 L208.72 401.62 L209.36 402.72 L210.00 403.80 L210.65 404.88 L211.30 405.96 L211.95 407.05 L212.58 408.18 L212.58 408.18 L213.07 406.65 L213.58 405.13 L214.08 403.63 L214.59 402.13 L215.10 400.62 L215.60 399.10 L216.09 397.56 L216.57 395.98 L217.03 394.37 L217.47 392.70 L217.94 390.67 L218.38 388.56 L218.78 386.38 L219.17 384.15 L219.54 381.90 L219.92 379.64 L220.31 377.39 L220.72 375.17 L221.17 373.01 L221.66 370.91 L222.14 369.02 L222.62 367.13 L223.13 365.24 L223.64 363.36 L224.18 361.52 L224.74 359.71 L225.32 357.96 L225.93 356.27 L226.57 354.66 L227.24 353.14 L227.80 352.00 L228.37 350.92 L228.95 349.88 L229.56 348.88 L230.18 347.92 L230.81 346.98 L231.47 346.06 L232.14 345.16 L232.82 344.28 L233.53 343.39 L234.23 342.54 L234.95 341.68 L235.69 340.83 L236.45 339.99 L237.23 339.18 L238.01 338.40 L238.80 337.65 L239.60 336.95 L240.41 336.30 L241.21 335.71 L241.88 335.26 L242.56 334.86 L243.24 334.50 L243.93 334.16 L244.62 333.86 L245.31 333.57 L246.02 333.29 L246.73 333.03 L247.46 332.77 L248.19 332.50 L248.97 332.22 L249.74 331.95 L250.50 331.69 L251.27 331.44 L252.06 331.20 L252.87 330.98 L253.72 330.76 L254.61 330.57 L255.56 330.38 L256.57 330.21 L258.32 329.97 L260.23 329.77 L262.30 329.62 L264.47 329.49 L266.73 329.40 L269.04 329.33 L271.37 329.28 L273.70 329.24 L275.99 329.20 L278.22 329.17 L280.43 329.16 L282.65 329.16 L284.87 329.19 L287.09 329.23 L289.32 329.29 L291.56 329.35 L293.80 329.42 L296.04 329.49 L298.30 329.57 L300.56 329.63 L302.90 329.70 L305.26 329.78 L307.63 329.86 L310.00 329.95 L312.39 330.04 L314.77 330.13 L317.16 330.22 L319.54 330.32 L321.92 330.41 L324.30 330.49" stroke="#ff0000" stroke-width="1.80" stroke-dasharray="6 2.6"/>
<path d="M51.98 103.17 L51.98 313.58 L51.98 313.18 L52.60 314.03 L53.22 314.92 L53.85 315.84 L54.47 316.77 L55.09 317.68 L55.72 318.56 L56.33 319.39 L56.94 320.15 L57.54 320.82 L58.13 321.38 L58.48 321.66 L58.80 321.91 L59.12 322.12 L59.43 322.31 L59.74 322.47 L60.06 322.62 L60.41 322.77 L60.77 322.91 L61.17 323.05 L61.62 323.21 L62.49 323.49 L63.46 323.75 L64.52 323.99 L65.65 324.23 L66.85 324.45 L68.10 324.67 L69.38 324.88 L70.68 325.09 L71.98 325.30 L73.28 325.51 L74.90 325.76 L76.61 326.01 L78.38 326.26 L80.20 326.51 L82.04 326.74 L83.88 326.97 L85.69 327.19 L87.47 327.41 L89.18 327.61 L90.81 327.80 L92.08 327.93 L93.34 328.04 L94.58 328.14 L95.79 328.23 L96.98 328.31 L98.14 328.40 L99.28 328.51 L100.38 328.64 L101.44 328.80 L102.47 329.00 L103.25 329.19 L104.00 329.38 L104.72 329.59 L105.42 329.81 L106.10 330.04 L106.77 330.29 L107.44 330.55 L108.10 330.82 L108.77 331.11 L109.45 331.41 L110.17 331.75 L110.88 332.10 L111.59 332.47 L112.29 332.86 L113.00 333.26 L113.70 333.68 L114.40 334.10 L115.10 334.54 L115.80 334.98 L116.50 335.42 L117.25 335.92 L118.01 336.44 L118.77 336.99 L119.53 337.55 L120.29 338.11 L121.04 338.68 L121.78 339.22 L122.51 339.75 L123.22 340.24 L123.90 340.70 L124.42 341.05 L124.91 341.42 L125.39 341.79 L125.86 342.16 L126.32 342.50 L126.79 342.82 L127.26 343.09 L127.75 343.30 L128.26 343.44 L128.79 343.51 L129.48 343.46 L130.20 343.29 L130.95 343.01 L131.72 342.65 L132.50 342.22 L133.29 341.74 L134.09 341.24 L134.89 340.73 L135.68 340.24 L136.47 339.78 L137.34 339.27 L138.21 338.71 L139.09 338.12 L139.97 337.50 L140.86 336.88 L141.74 336.27 L142.62 335.69 L143.49 335.14 L144.35 334.64 L145.20 334.22 L145.87 333.92 L146.53 333.66 L147.17 333.42 L147.80 333.20 L148.43 333.01 L149.07 332.83 L149.73 332.67 L150.40 332.51 L151.10 332.36 L151.83 332.21 L152.80 332.03 L153.80 331.87 L154.84 331.72 L155.91 331.59 L157.01 331.47 L158.12 331.37 L159.25 331.29 L160.38 331.22 L161.52 331.16 L162.66 331.12 L163.88 331.11 L165.10 331.12 L166.33 331.17 L167.56 331.23 L168.81 331.31 L170.08 331.40 L171.39 331.48 L172.73 331.57 L174.13 331.64 L175.57 331.70 L177.56 331.76 L179.60 331.81 L181.68 331.85 L183.83 331.90 L186.05 331.94 L188.36 331.97 L190.76 332.01 L193.26 332.04 L195.87 332.07 L198.62 332.10 L203.19 332.14 L208.13 332.18 L213.39 332.21 L218.91 332.24 L224.63 332.26 L230.51 332.27 L236.49 332.29 L242.52 332.30 L248.53 332.32 L254.48 332.33 L261.14 332.34 L267.94 332.35 L274.85 332.35 L281.84 332.35 L288.90 332.34 L296.00 332.34 L303.11 332.34 L310.21 332.33 L317.28 332.33 L324.30 332.33" stroke="#000000" stroke-width="1.90" stroke-dasharray="6.6 2.3 1.4 2.3" stroke-dashoffset="4"/>
<path d="M51.98 103.17 L51.98 329.63 L51.98 329.63 L52.32 329.69 L52.65 329.75 L52.96 329.81 L53.28 329.87 L53.60 329.93 L53.93 329.98 L54.27 330.04 L54.64 330.10 L55.04 330.15 L55.47 330.21 L56.36 330.30 L57.35 330.38 L58.42 330.46 L59.57 330.54 L60.78 330.61 L62.04 330.68 L63.34 330.76 L64.67 330.83 L66.01 330.92 L67.34 331.01 L69.12 331.13 L70.99 331.26 L72.94 331.40 L74.95 331.54 L76.99 331.69 L79.05 331.84 L81.09 331.99 L83.09 332.16 L85.03 332.32 L86.90 332.50 L88.45 332.67 L89.98 332.87 L91.49 333.08 L92.97 333.30 L94.43 333.52 L95.87 333.73 L97.31 333.92 L98.73 334.08 L100.15 334.20 L101.56 334.28 L102.86 334.30 L104.14 334.30 L105.42 334.26 L106.69 334.20 L107.95 334.12 L109.20 334.03 L110.44 333.93 L111.68 333.83 L112.90 333.74 L114.13 333.65 L115.26 333.56 L116.36 333.47 L117.45 333.36 L118.52 333.25 L119.60 333.14 L120.68 333.03 L121.78 332.93 L122.91 332.83 L124.08 332.75 L125.30 332.67 L126.85 332.60 L128.42 332.54 L130.01 332.49 L131.64 332.45 L133.31 332.42 L135.04 332.40 L136.84 332.38 L138.72 332.37 L140.69 332.35 L142.75 332.33 L146.17 332.30 L149.81 332.28 L153.66 332.27 L157.70 332.26 L161.91 332.26 L166.26 332.26 L170.73 332.26 L175.30 332.27 L179.95 332.27 L184.65 332.27 L190.91 332.27 L197.48 332.27 L204.29 332.28 L211.30 332.29 L218.45 332.29 L225.69 332.30 L232.97 332.31 L240.23 332.32 L247.41 332.32 L254.48 332.33 L261.46 332.33 L268.44 332.33 L275.42 332.33 L282.40 332.33 L289.39 332.33 L296.37 332.33 L303.35 332.33 L310.33 332.33 L317.32 332.33 L324.30 332.33" stroke="#0000ff" stroke-width="1.30" />
</g>
<rect x="45.00" y="246.50" width="279.30" height="172.00" fill="none" stroke="#6e6e6e" stroke-width="1.20"/>
<path d="M45.00 418.50v-3.50M45.00 246.50v3.50M58.97 418.50v-2.00M58.97 246.50v2.00M72.93 418.50v-2.00M72.93 246.50v2.00M86.90 418.50v-2.00M86.90 246.50v2.00M100.86 418.50v-2.00M100.86 246.50v2.00M114.83 418.50v-3.50M114.83 246.50v3.50M128.79 418.50v-2.00M128.79 246.50v2.00M142.75 418.50v-2.00M142.75 246.50v2.00M156.72 418.50v-2.00M156.72 246.50v2.00M170.69 418.50v-2.00M170.69 246.50v2.00M184.65 418.50v-3.50M184.65 246.50v3.50M198.62 418.50v-2.00M198.62 246.50v2.00M212.58 418.50v-2.00M212.58 246.50v2.00M226.55 418.50v-2.00M226.55 246.50v2.00M240.51 418.50v-2.00M240.51 246.50v2.00M254.48 418.50v-3.50M254.48 246.50v3.50M268.44 418.50v-2.00M268.44 246.50v2.00M282.40 418.50v-2.00M282.40 246.50v2.00M296.37 418.50v-2.00M296.37 246.50v2.00M310.33 418.50v-2.00M310.33 246.50v2.00M324.30 418.50v-3.50M324.30 246.50v3.50M45.00 418.50h3.50M324.30 418.50h-3.50M45.00 412.77h2.00M324.30 412.77h-2.00M45.00 407.03h2.00M324.30 407.03h-2.00M45.00 401.30h2.00M324.30 401.30h-2.00M45.00 395.57h2.00M324.30 395.57h-2.00M45.00 389.83h3.50M324.30 389.83h-3.50M45.00 384.10h2.00M324.30 384.10h-2.00M45.00 378.37h2.00M324.30 378.37h-2.00M45.00 372.63h2.00M324.30 372.63h-2.00M45.00 366.90h2.00M324.30 366.90h-2.00M45.00 361.17h3.50M324.30 361.17h-3.50M45.00 355.43h2.00M324.30 355.43h-2.00M45.00 349.70h2.00M324.30 349.70h-2.00M45.00 343.97h2.00M324.30 343.97h-2.00M45.00 338.23h2.00M324.30 338.23h-2.00M45.00 332.50h3.50M324.30 332.50h-3.50M45.00 326.77h2.00M324.30 326.77h-2.00M45.00 321.03h2.00M324.30 321.03h-2.00M45.00 315.30h2.00M324.30 315.30h-2.00M45.00 309.57h2.00M324.30 309.57h-2.00M45.00 303.83h3.50M324.30 303.83h-3.50M45.00 298.10h2.00M324.30 298.10h-2.00M45.00 292.37h2.00M324.30 292.37h-2.00M45.00 286.63h2.00M324.30 286.63h-2.00M45.00 280.90h2.00M324.30 280.90h-2.00M45.00 275.17h3.50M324.30 275.17h-3.50M45.00 269.43h2.00M324.30 269.43h-2.00M45.00 263.70h2.00M324.30 263.70h-2.00M45.00 257.97h2.00M324.30 257.97h-2.00M45.00 252.23h2.00M324.30 252.23h-2.00M45.00 246.50h3.50M324.30 246.50h-3.50" stroke="#555" stroke-width="0.90" fill="none"/>
<text x="45.00" y="431.00" text-anchor="middle" font-size="11.00">0</text>
<text x="114.83" y="431.00" text-anchor="middle" font-size="11.00">10</text>
<text x="184.65" y="431.00" text-anchor="middle" font-size="11.00">20</text>
<text x="254.48" y="431.00" text-anchor="middle" font-size="11.00">30</text>
<text x="324.30" y="431.00" text-anchor="middle" font-size="11.00">40</text>
<text x="42.20" y="422.96" text-anchor="end" font-size="11.00">−150</text>
<text x="42.20" y="394.29" text-anchor="end" font-size="11.00">−100</text>
<text x="42.20" y="365.63" text-anchor="end" font-size="11.00">−50</text>
<text x="42.20" y="336.96" text-anchor="end" font-size="11.00">0</text>
<text x="42.20" y="308.29" text-anchor="end" font-size="11.00">50</text>
<text x="42.20" y="279.63" text-anchor="end" font-size="11.00">100</text>
<text x="42.20" y="250.96" text-anchor="end" font-size="11.00">150</text>
<clipPath id="c3"><rect x="398.60" y="242.90" width="284.90" height="175.60"/></clipPath>
<line x1="398.60" y1="330.70" x2="683.50" y2="330.70" stroke="#808080" stroke-width="1.00"/>
<g clip-path="url(#c3)" fill="none">
<path d="M403.03 235.37 L403.08 236.25 L403.13 237.11 L403.18 237.97 L403.23 238.83 L403.28 239.70 L403.32 240.56 L403.38 241.44 L403.43 242.33 L403.48 243.23 L403.54 244.15 L403.60 245.22 L403.67 246.29 L403.74 247.38 L403.81 248.48 L403.89 249.60 L403.96 250.73 L404.04 251.88 L404.12 253.05 L404.21 254.24 L404.30 255.44 L404.41 256.90 L404.52 258.42 L404.64 259.98 L404.76 261.57 L404.89 263.17 L405.02 264.78 L405.15 266.36 L405.29 267.92 L405.43 269.43 L405.56 270.87 L405.68 272.04 L405.80 273.17 L405.91 274.28 L406.03 275.37 L406.15 276.44 L406.27 277.50 L406.40 278.56 L406.54 279.62 L406.68 280.69 L406.83 281.78 L406.99 282.92 L407.14 284.07 L407.30 285.24 L407.46 286.42 L407.63 287.59 L407.81 288.75 L408.00 289.88 L408.22 290.99 L408.46 292.05 L408.73 293.07 L408.97 293.88 L409.22 294.65 L409.49 295.40 L409.76 296.12 L410.05 296.83 L410.36 297.53 L410.67 298.23 L411.00 298.93 L411.35 299.63 L411.71 300.35 L412.11 301.13 L412.54 301.93 L412.98 302.73 L413.44 303.54 L413.92 304.35 L414.41 305.14 L414.90 305.90 L415.40 306.64 L415.90 307.34 L416.39 308.00 L416.79 308.50 L417.18 308.98 L417.58 309.44 L417.97 309.88 L418.37 310.31 L418.78 310.72 L419.21 311.12 L419.64 311.51 L420.09 311.89 L420.57 312.26 L421.10 312.65 L421.65 313.03 L422.21 313.39 L422.80 313.74 L423.39 314.08 L424.01 314.40 L424.63 314.72 L425.27 315.04 L425.92 315.34 L426.58 315.65 L427.36 315.99 L428.15 316.33 L428.96 316.66 L429.78 316.98 L430.62 317.29 L431.48 317.59 L432.36 317.87 L433.27 318.15 L434.19 318.41 L435.13 318.66 L436.30 318.93 L437.53 319.19 L438.80 319.42 L440.10 319.63 L441.42 319.82 L442.76 320.01 L444.09 320.18 L445.41 320.35 L446.71 320.51 L447.98 320.67 L449.13 320.81 L450.25 320.93 L451.34 321.05 L452.41 321.16 L453.50 321.26 L454.59 321.36 L455.72 321.46 L456.88 321.57 L458.10 321.68 L459.38 321.79 L461.26 321.97 L463.25 322.15 L465.34 322.33 L467.51 322.52 L469.73 322.72 L471.98 322.91 L474.24 323.11 L476.50 323.30 L478.73 323.49 L480.90 323.68 L483.05 323.86 L485.21 324.03 L487.38 324.21 L489.56 324.38 L491.73 324.55 L493.88 324.72 L496.00 324.90 L498.09 325.07 L500.13 325.25 L502.11 325.43 L503.76 325.59 L505.36 325.74 L506.91 325.89 L508.45 326.05 L509.96 326.20 L511.47 326.36 L512.97 326.53 L514.50 326.70 L516.04 326.88 L517.62 327.06 L519.38 327.26 L521.20 327.46 L523.06 327.66 L524.94 327.87 L526.81 328.08 L528.66 328.31 L530.46 328.56 L532.19 328.83 L533.83 329.12 L535.35 329.45 L536.38 329.69 L537.35 329.92 L538.28 330.16 L539.18 330.41 L540.04 330.67 L540.89 330.95 L541.72 331.26 L542.55 331.62 L543.38 332.01 L544.22 332.46 L545.16 333.01 L546.10 333.62 L547.03 334.28 L547.96 334.98 L548.88 335.72 L549.78 336.50 L550.65 337.30 L551.49 338.14 L552.31 338.99 L553.08 339.86 L553.84 340.77 L554.56 341.70 L555.26 342.65 L555.93 343.64 L556.57 344.65 L557.19 345.70 L557.78 346.78 L558.35 347.90 L558.89 349.06 L559.41 350.27 L560.02 351.83 L560.58 353.49 L561.11 355.24 L561.60 357.05 L562.06 358.90 L562.48 360.77 L562.86 362.64 L563.22 364.50 L563.54 366.32 L563.84 368.08 L564.08 369.64 L564.27 371.17 L564.43 372.69 L564.56 374.19 L564.67 375.69 L564.76 377.19 L564.84 378.70 L564.92 380.23 L565.01 381.79 L565.11 383.38 L565.22 385.18 L565.33 387.02 L565.43 388.88 L565.52 390.76 L565.61 392.66 L565.70 394.57 L565.79 396.49 L565.88 398.40 L565.97 400.30 L566.06 402.19 L569.22 258.70 L569.22 258.70 L569.57 261.33 L569.90 263.97 L570.23 266.61 L570.56 269.26 L570.89 271.90 L571.23 274.54 L571.57 277.16 L571.93 279.77 L572.31 282.35 L572.71 284.92 L573.09 287.37 L573.46 289.84 L573.84 292.32 L574.23 294.78 L574.63 297.23 L575.05 299.64 L575.51 302.00 L576.00 304.29 L576.54 306.50 L577.14 308.62 L577.67 310.31 L578.23 311.96 L578.82 313.59 L579.43 315.17 L580.07 316.71 L580.72 318.20 L581.39 319.63 L582.08 321.01 L582.77 322.31 L583.47 323.55 L583.99 324.44 L584.51 325.30 L585.03 326.13 L585.55 326.92 L586.08 327.68 L586.64 328.40 L587.22 329.09 L587.83 329.74 L588.47 330.37 L589.17 330.95 L589.93 331.52 L590.73 332.08 L591.58 332.61 L592.46 333.10 L593.37 333.56 L594.29 333.96 L595.23 334.32 L596.17 334.60 L597.10 334.82 L598.03 334.96 L598.95 335.01 L599.88 334.95 L600.82 334.81 L601.77 334.60 L602.72 334.35 L603.68 334.06 L604.64 333.76 L605.60 333.47 L606.56 333.19 L607.53 332.96 L608.52 332.73 L609.52 332.49 L610.51 332.23 L611.51 331.97 L612.51 331.72 L613.52 331.47 L614.53 331.24 L615.56 331.03 L616.60 330.85 L617.66 330.70 L618.81 330.58 L619.98 330.48 L621.17 330.41 L622.37 330.36 L623.58 330.34 L624.80 330.33 L626.02 330.34 L627.24 330.36 L628.47 330.40 L629.69 330.45 L630.94 330.52 L632.19 330.63 L633.44 330.75 L634.70 330.90 L635.96 331.06 L637.22 331.23 L638.49 331.39 L639.77 331.55 L641.05 331.70 L642.35 331.83 L643.69 331.95 L645.02 332.07 L646.33 332.18 L647.65 332.28 L648.98 332.39 L650.34 332.49 L651.73 332.58 L653.18 332.67 L654.69 332.75 L656.28 332.83 L658.63 332.93 L661.14 333.02 L663.78 333.09 L666.51 333.15 L669.32 333.20 L672.18 333.25 L675.05 333.30 L677.91 333.35 L680.74 333.40 L683.50 333.46" stroke="#ff0000" stroke-width="1.80" stroke-dasharray="6 2.6"/>
<path d="M405.25 230.36 L405.25 322.80 L405.25 322.80 L405.40 322.96 L405.56 323.13 L405.71 323.29 L405.85 323.46 L406.00 323.62 L406.16 323.78 L406.32 323.95 L406.48 324.11 L406.65 324.27 L406.83 324.43 L407.05 324.61 L407.26 324.80 L407.48 324.98 L407.71 325.17 L407.94 325.35 L408.19 325.53 L408.45 325.70 L408.73 325.87 L409.04 326.03 L409.36 326.18 L409.93 326.41 L410.54 326.61 L411.21 326.80 L411.92 326.97 L412.67 327.13 L413.46 327.28 L414.28 327.42 L415.14 327.55 L416.04 327.68 L416.96 327.82 L418.50 328.01 L420.17 328.17 L421.96 328.31 L423.84 328.44 L425.79 328.56 L427.80 328.66 L429.84 328.76 L431.89 328.86 L433.93 328.96 L435.95 329.07 L438.24 329.19 L440.63 329.29 L443.09 329.39 L445.58 329.48 L448.08 329.57 L450.54 329.67 L452.94 329.77 L455.23 329.89 L457.39 330.03 L459.38 330.20 L460.62 330.33 L461.80 330.47 L462.92 330.62 L463.99 330.78 L465.02 330.94 L466.04 331.10 L467.04 331.26 L468.05 331.42 L469.08 331.57 L470.14 331.70 L471.22 331.84 L472.29 332.00 L473.37 332.15 L474.45 332.31 L475.52 332.46 L476.60 332.59 L477.68 332.70 L478.75 332.78 L479.83 332.83 L480.90 332.83 L481.98 332.78 L483.05 332.69 L484.12 332.55 L485.19 332.38 L486.27 332.19 L487.34 331.99 L488.41 331.80 L489.49 331.61 L490.58 331.45 L491.67 331.33 L492.77 331.22 L493.86 331.13 L494.94 331.05 L496.02 330.97 L497.11 330.91 L498.22 330.85 L499.36 330.80 L500.54 330.76 L501.77 330.73 L503.06 330.70 L504.98 330.68 L507.00 330.68 L509.13 330.71 L511.33 330.75 L513.59 330.81 L515.90 330.87 L518.24 330.93 L520.58 330.99 L522.91 331.04 L525.22 331.08 L527.69 331.11 L530.21 331.15 L532.75 331.18 L535.31 331.22 L537.88 331.25 L540.46 331.28 L543.02 331.31 L545.56 331.32 L548.08 331.33 L550.55 331.33 L552.82 331.31 L555.05 331.29 L557.26 331.26 L559.45 331.22 L561.63 331.17 L563.81 331.13 L566.00 331.08 L568.20 331.03 L570.44 330.99 L572.71 330.95 L575.17 330.91 L577.66 330.87 L580.18 330.83 L582.71 330.79 L585.26 330.75 L587.82 330.71 L590.38 330.68 L592.94 330.64 L595.49 330.61 L598.03 330.57 L600.56 330.54 L603.09 330.51 L605.63 330.48 L608.16 330.45 L610.69 330.42 L613.22 330.39 L615.76 330.37 L618.29 330.35 L620.82 330.33 L623.35 330.32 L625.87 330.32 L628.35 330.32 L630.82 330.33 L633.29 330.35 L635.77 330.36 L638.26 330.38 L640.79 330.40 L643.36 330.42 L645.98 330.43 L648.68 330.45 L651.94 330.47 L655.29 330.48 L658.72 330.50 L662.21 330.52 L665.74 330.54 L669.31 330.56 L672.88 330.58 L676.45 330.60 L679.99 330.62 L683.50 330.64" stroke="#000000" stroke-width="1.90" stroke-dasharray="6.6 2.3 1.4 2.3" stroke-dashoffset="8"/>
<path d="M404.93 230.36 L404.93 329.57 L404.93 329.57 L405.55 329.60 L406.13 329.62 L406.71 329.65 L407.28 329.67 L407.85 329.70 L408.45 329.73 L409.07 329.75 L409.74 329.78 L410.47 329.80 L411.26 329.82 L412.96 329.86 L414.90 329.90 L417.02 329.93 L419.30 329.96 L421.70 329.98 L424.17 330.01 L426.68 330.04 L429.19 330.07 L431.66 330.10 L434.05 330.14 L436.54 330.18 L439.07 330.23 L441.63 330.28 L444.20 330.33 L446.79 330.38 L449.36 330.43 L451.92 330.49 L454.45 330.54 L456.94 330.59 L459.38 330.64 L461.55 330.68 L463.69 330.73 L465.80 330.77 L467.90 330.82 L469.97 330.86 L472.03 330.91 L474.09 330.95 L476.15 330.98 L478.20 331.01 L480.27 331.03 L482.31 331.04 L484.34 331.04 L486.37 331.04 L488.40 331.03 L490.42 331.02 L492.44 331.01 L494.46 331.00 L496.48 330.98 L498.51 330.96 L500.53 330.95 L502.56 330.94 L504.58 330.92 L506.61 330.91 L508.63 330.89 L510.66 330.87 L512.69 330.85 L514.71 330.83 L516.74 330.82 L518.76 330.80 L520.79 330.78 L522.78 330.75 L524.71 330.73 L526.60 330.71 L528.49 330.68 L530.39 330.65 L532.33 330.63 L534.35 330.60 L536.45 330.58 L538.68 330.56 L541.05 330.55 L544.92 330.53 L549.01 330.53 L553.32 330.52 L557.83 330.53 L562.53 330.53 L567.41 330.54 L572.46 330.55 L577.68 330.56 L583.04 330.57 L588.53 330.57 L596.71 330.58 L605.44 330.59 L614.63 330.59 L624.17 330.60 L633.98 330.60 L643.95 330.61 L653.98 330.62 L663.99 330.62 L673.86 330.63 L683.50 330.64" stroke="#0000ff" stroke-width="1.30" />
</g>
<rect x="398.60" y="242.90" width="284.90" height="175.60" fill="none" stroke="#6e6e6e" stroke-width="1.20"/>
<path d="M398.60 418.50v-3.50M398.60 242.90v3.50M411.26 418.50v-2.00M411.26 242.90v2.00M423.92 418.50v-2.00M423.92 242.90v2.00M436.59 418.50v-2.00M436.59 242.90v2.00M449.25 418.50v-2.00M449.25 242.90v2.00M461.91 418.50v-3.50M461.91 242.90v3.50M474.57 418.50v-2.00M474.57 242.90v2.00M487.24 418.50v-2.00M487.24 242.90v2.00M499.90 418.50v-2.00M499.90 242.90v2.00M512.56 418.50v-2.00M512.56 242.90v2.00M525.22 418.50v-3.50M525.22 242.90v3.50M537.88 418.50v-2.00M537.88 242.90v2.00M550.55 418.50v-2.00M550.55 242.90v2.00M563.21 418.50v-2.00M563.21 242.90v2.00M575.87 418.50v-2.00M575.87 242.90v2.00M588.53 418.50v-3.50M588.53 242.90v3.50M601.20 418.50v-2.00M601.20 242.90v2.00M613.86 418.50v-2.00M613.86 242.90v2.00M626.52 418.50v-2.00M626.52 242.90v2.00M639.18 418.50v-2.00M639.18 242.90v2.00M651.84 418.50v-3.50M651.84 242.90v3.50M664.51 418.50v-2.00M664.51 242.90v2.00M677.17 418.50v-2.00M677.17 242.90v2.00M398.60 418.50h2.00M683.50 418.50h-2.00M398.60 412.23h2.00M683.50 412.23h-2.00M398.60 405.96h3.50M683.50 405.96h-3.50M398.60 399.69h2.00M683.50 399.69h-2.00M398.60 393.41h2.00M683.50 393.41h-2.00M398.60 387.14h2.00M683.50 387.14h-2.00M398.60 380.87h3.50M683.50 380.87h-3.50M398.60 374.60h2.00M683.50 374.60h-2.00M398.60 368.33h2.00M683.50 368.33h-2.00M398.60 362.06h2.00M683.50 362.06h-2.00M398.60 355.79h3.50M683.50 355.79h-3.50M398.60 349.51h2.00M683.50 349.51h-2.00M398.60 343.24h2.00M683.50 343.24h-2.00M398.60 336.97h2.00M683.50 336.97h-2.00M398.60 330.70h3.50M683.50 330.70h-3.50M398.60 324.43h2.00M683.50 324.43h-2.00M398.60 318.16h2.00M683.50 318.16h-2.00M398.60 311.89h2.00M683.50 311.89h-2.00M398.60 305.61h3.50M683.50 305.61h-3.50M398.60 299.34h2.00M683.50 299.34h-2.00M398.60 293.07h2.00M683.50 293.07h-2.00M398.60 286.80h2.00M683.50 286.80h-2.00M398.60 280.53h3.50M683.50 280.53h-3.50M398.60 274.26h2.00M683.50 274.26h-2.00M398.60 267.99h2.00M683.50 267.99h-2.00M398.60 261.71h2.00M683.50 261.71h-2.00M398.60 255.44h3.50M683.50 255.44h-3.50M398.60 249.17h2.00M683.50 249.17h-2.00M398.60 242.90h2.00M683.50 242.90h-2.00" stroke="#555" stroke-width="0.90" fill="none"/>
<text x="398.60" y="431.50" text-anchor="middle" font-size="11.00">0</text>
<text x="461.91" y="431.50" text-anchor="middle" font-size="11.00">10</text>
<text x="525.22" y="431.50" text-anchor="middle" font-size="11.00">20</text>
<text x="588.53" y="431.50" text-anchor="middle" font-size="11.00">30</text>
<text x="651.84" y="431.50" text-anchor="middle" font-size="11.00">40</text>
<text x="395.80" y="410.42" text-anchor="end" font-size="11.00">−600</text>
<text x="395.80" y="385.33" text-anchor="end" font-size="11.00">−400</text>
<text x="395.80" y="360.25" text-anchor="end" font-size="11.00">−200</text>
<text x="395.80" y="335.16" text-anchor="end" font-size="11.00">0</text>
<text x="395.80" y="310.07" text-anchor="end" font-size="11.00">200</text>
<text x="395.80" y="284.99" text-anchor="end" font-size="11.00">400</text>
<text x="395.80" y="259.90" text-anchor="end" font-size="11.00">600</text>
<rect x="404.40" y="92.90" width="126.90" height="77.20" fill="#fff"/>
<clipPath id="c4"><rect x="418.40" y="93.90" width="110.90" height="68.20"/></clipPath>
<line x1="418.40" y1="128.00" x2="529.30" y2="128.00" stroke="#a8a8a8" stroke-width="1.20"/>
<g clip-path="url(#c4)" fill="none">
<path d="M456.11 83.67 L456.22 84.70 L456.29 85.73 L456.35 86.77 L456.40 87.81 L456.46 88.85 L456.55 89.88 L456.67 90.90 L456.85 91.92 L457.10 92.92 L457.44 93.90 L457.92 94.95 L458.52 95.98 L459.22 96.99 L459.99 97.99 L460.79 98.98 L461.61 99.97 L462.42 100.95 L463.20 101.93 L463.91 102.93 L464.53 103.93 L465.03 104.82 L465.49 105.70 L465.93 106.57 L466.34 107.44 L466.73 108.31 L467.11 109.20 L467.47 110.10 L467.83 111.03 L468.18 111.99 L468.53 113.00 L468.94 114.27 L469.34 115.60 L469.72 116.97 L470.09 118.39 L470.45 119.83 L470.79 121.29 L471.12 122.76 L471.45 124.22 L471.76 125.68 L472.08 127.11 L472.38 128.53 L472.67 129.93 L472.96 131.32 L473.23 132.72 L473.49 134.12 L473.75 135.53 L474.01 136.96 L474.25 138.42 L474.50 139.91 L474.74 141.44 L475.01 143.23 L475.28 145.02 L475.55 146.83 L475.80 148.66 L476.05 150.53 L476.29 152.46 L476.52 154.46 L476.75 156.54 L476.97 158.72 L477.18 161.01 L477.47 164.61 L477.74 168.39 L477.99 172.34 L478.23 176.47 L478.45 180.78 L478.65 185.26 L478.85 189.93 L479.03 194.79 L479.21 199.83 L479.39 205.07 L479.65 213.50 L479.89 222.48 L480.09 231.97 L480.28 241.90 L480.44 252.22 L480.60 262.90 L480.75 273.87 L480.89 285.08 L481.03 296.49 L481.17 308.05 L481.35 323.46 L481.50 339.62 L481.65 356.39 L481.78 373.64 L481.90 391.24 L482.02 409.07 L482.14 426.97 L482.25 444.84 L482.37 462.53 L482.50 479.91 L483.83 -208.23 L483.83 -208.23 L483.99 -192.99 L484.14 -177.30 L484.30 -161.34 L484.46 -145.31 L484.62 -129.41 L484.78 -113.85 L484.93 -98.81 L485.09 -84.51 L485.24 -71.13 L485.38 -58.87 L485.47 -51.68 L485.55 -44.90 L485.63 -38.47 L485.70 -32.32 L485.78 -26.41 L485.86 -20.67 L485.94 -15.03 L486.04 -9.44 L486.15 -3.84 L486.27 1.83 L486.40 6.91 L486.54 11.91 L486.69 16.84 L486.85 21.71 L487.01 26.54 L487.18 31.33 L487.35 36.08 L487.51 40.82 L487.67 45.54 L487.82 50.25 L487.96 54.80 L488.08 59.45 L488.20 64.15 L488.32 68.84 L488.44 73.48 L488.56 78.00 L488.69 82.36 L488.83 86.50 L488.98 90.36 L489.15 93.90 L489.27 95.94 L489.39 97.86 L489.52 99.68 L489.65 101.42 L489.78 103.08 L489.92 104.70 L490.06 106.28 L490.20 107.83 L490.34 109.39 L490.48 110.95 L490.61 112.28 L490.74 113.56 L490.86 114.81 L490.99 116.03 L491.13 117.25 L491.26 118.46 L491.39 119.68 L491.53 120.92 L491.67 122.19 L491.82 123.50 L491.98 125.04 L492.13 126.63 L492.28 128.27 L492.44 129.93 L492.60 131.59 L492.76 133.26 L492.94 134.91 L493.14 136.52 L493.35 138.09 L493.59 139.59 L493.81 140.94 L494.05 142.41 L494.31 143.94 L494.57 145.47 L494.84 146.94 L495.12 148.29 L495.41 149.45 L495.69 150.36 L495.97 150.96 L496.25 151.19 L496.43 151.13 L496.61 150.94 L496.79 150.63 L496.97 150.23 L497.15 149.74 L497.33 149.20 L497.51 148.61 L497.69 147.99 L497.86 147.37 L498.03 146.76 L498.32 145.43 L498.58 143.84 L498.81 142.06 L499.03 140.13 L499.25 138.12 L499.47 136.09 L499.71 134.09 L499.99 132.18 L500.31 130.43 L500.69 128.89 L500.98 127.87 L501.28 126.81 L501.60 125.75 L501.93 124.71 L502.27 123.73 L502.63 122.84 L503.00 122.06 L503.40 121.44 L503.81 121.00 L504.24 120.77 L504.56 120.75 L504.89 120.83 L505.24 120.99 L505.60 121.24 L505.96 121.54 L506.33 121.89 L506.70 122.28 L507.06 122.68 L507.43 123.09 L507.79 123.50 L508.32 124.17 L508.84 124.95 L509.35 125.83 L509.86 126.77 L510.38 127.75 L510.90 128.75 L511.43 129.73 L511.97 130.68 L512.53 131.57 L513.11 132.36 L513.61 133.00 L514.11 133.62 L514.61 134.21 L515.12 134.79 L515.64 135.35 L516.18 135.88 L516.74 136.38 L517.34 136.87 L517.97 137.32 L518.65 137.75 L519.54 138.22 L520.50 138.62 L521.53 138.98 L522.60 139.29 L523.70 139.58 L524.83 139.85 L525.97 140.11 L527.10 140.37 L528.22 140.65 L529.30 140.96" stroke="#ff0000" stroke-width="1.25" stroke-dasharray="2.4 1.0"/>
<path d="M422.17 80.26 L422.21 81.63 L422.24 83.00 L422.28 84.38 L422.31 85.76 L422.34 87.14 L422.37 88.52 L422.42 89.88 L422.47 91.24 L422.53 92.58 L422.61 93.90 L422.69 95.13 L422.77 96.37 L422.84 97.61 L422.93 98.84 L423.02 100.06 L423.13 101.26 L423.26 102.43 L423.42 103.56 L423.61 104.66 L423.83 105.70 L424.03 106.51 L424.23 107.32 L424.44 108.11 L424.66 108.89 L424.91 109.64 L425.17 110.36 L425.47 111.04 L425.81 111.68 L426.18 112.26 L426.61 112.79 L427.03 113.20 L427.48 113.56 L427.97 113.87 L428.49 114.14 L429.04 114.39 L429.60 114.62 L430.17 114.83 L430.76 115.05 L431.34 115.28 L431.93 115.52 L432.62 115.80 L433.35 116.06 L434.10 116.30 L434.87 116.54 L435.65 116.78 L436.42 117.02 L437.18 117.28 L437.91 117.55 L438.60 117.85 L439.25 118.18 L439.76 118.48 L440.26 118.79 L440.73 119.11 L441.19 119.45 L441.63 119.79 L442.06 120.15 L442.47 120.52 L442.88 120.91 L443.29 121.31 L443.69 121.73 L444.10 122.19 L444.51 122.68 L444.89 123.18 L445.27 123.70 L445.64 124.24 L446.00 124.79 L446.36 125.35 L446.72 125.93 L447.08 126.52 L447.46 127.11 L447.90 127.91 L448.35 128.85 L448.79 129.87 L449.24 130.94 L449.69 131.98 L450.13 132.95 L450.58 133.80 L451.02 134.48 L451.46 134.93 L451.89 135.09 L452.27 134.97 L452.64 134.61 L453.01 134.06 L453.37 133.36 L453.73 132.58 L454.10 131.75 L454.47 130.91 L454.86 130.13 L455.25 129.44 L455.66 128.89 L455.99 128.53 L456.32 128.18 L456.65 127.84 L456.99 127.53 L457.33 127.23 L457.68 126.96 L458.04 126.72 L458.42 126.52 L458.80 126.35 L459.21 126.23 L459.68 126.15 L460.18 126.14 L460.70 126.18 L461.23 126.27 L461.78 126.39 L462.33 126.54 L462.89 126.69 L463.44 126.84 L463.99 126.99 L464.53 127.11 L465.09 127.23 L465.66 127.34 L466.23 127.45 L466.81 127.56 L467.39 127.69 L467.95 127.82 L468.51 127.96 L469.05 128.12 L469.58 128.29 L470.08 128.48 L470.49 128.67 L470.87 128.88 L471.22 129.11 L471.56 129.36 L471.90 129.61 L472.24 129.86 L472.60 130.10 L472.98 130.33 L473.39 130.54 L473.85 130.73 L474.59 130.97 L475.40 131.19 L476.27 131.39 L477.18 131.57 L478.14 131.72 L479.11 131.85 L480.09 131.96 L481.06 132.03 L482.02 132.08 L482.94 132.09 L483.84 132.07 L484.73 132.01 L485.62 131.91 L486.50 131.78 L487.39 131.63 L488.28 131.46 L489.16 131.29 L490.05 131.10 L490.93 130.91 L491.82 130.73 L492.71 130.54 L493.60 130.33 L494.48 130.12 L495.37 129.89 L496.26 129.66 L497.14 129.42 L498.03 129.18 L498.91 128.94 L499.80 128.71 L500.69 128.48 L501.57 128.24 L502.46 128.00 L503.34 127.75 L504.22 127.50 L505.11 127.25 L505.99 127.00 L506.88 126.78 L507.77 126.57 L508.66 126.38 L509.56 126.23 L510.46 126.10 L511.35 125.99 L512.25 125.91 L513.15 125.84 L514.05 125.78 L514.95 125.75 L515.87 125.72 L516.78 125.70 L517.71 125.69 L518.65 125.68 L519.68 125.69 L520.73 125.71 L521.79 125.76 L522.85 125.81 L523.92 125.88 L525.00 125.95 L526.08 126.03 L527.16 126.10 L528.23 126.17 L529.30 126.23" stroke="#000000" stroke-width="0.95" stroke-dasharray="2.4 0.8"/>
<path d="M420.53 73.44 L420.53 119.47 L420.53 119.47 L420.60 119.61 L420.67 119.76 L420.73 119.90 L420.80 120.05 L420.86 120.19 L420.93 120.33 L421.00 120.47 L421.09 120.60 L421.18 120.72 L421.28 120.84 L421.41 120.95 L421.55 121.06 L421.69 121.15 L421.84 121.24 L422.00 121.32 L422.18 121.39 L422.36 121.47 L422.55 121.55 L422.75 121.64 L422.97 121.73 L423.37 121.89 L423.81 122.06 L424.28 122.24 L424.79 122.43 L425.33 122.61 L425.89 122.79 L426.48 122.98 L427.09 123.16 L427.73 123.33 L428.38 123.50 L429.44 123.74 L430.62 123.96 L431.89 124.17 L433.22 124.37 L434.59 124.57 L435.96 124.77 L437.32 124.98 L438.64 125.20 L439.88 125.43 L441.02 125.68 L441.84 125.89 L442.60 126.12 L443.33 126.35 L444.03 126.59 L444.72 126.83 L445.41 127.07 L446.10 127.31 L446.81 127.55 L447.56 127.78 L448.34 128.00 L449.34 128.27 L450.39 128.55 L451.47 128.83 L452.57 129.11 L453.69 129.38 L454.82 129.64 L455.94 129.86 L457.06 130.06 L458.15 130.21 L459.21 130.32 L460.16 130.37 L461.12 130.39 L462.07 130.38 L463.02 130.34 L463.96 130.28 L464.88 130.20 L465.78 130.11 L466.66 130.00 L467.50 129.89 L468.30 129.77 L468.89 129.68 L469.44 129.57 L469.97 129.45 L470.47 129.33 L470.97 129.19 L471.46 129.06 L471.97 128.92 L472.49 128.77 L473.04 128.62 L473.63 128.48 L474.46 128.26 L475.33 128.02 L476.24 127.76 L477.17 127.49 L478.13 127.22 L479.10 126.96 L480.07 126.72 L481.05 126.51 L482.00 126.34 L482.94 126.23 L483.84 126.16 L484.72 126.13 L485.61 126.13 L486.50 126.16 L487.39 126.21 L488.27 126.28 L489.16 126.36 L490.05 126.45 L490.93 126.55 L491.82 126.64 L492.71 126.74 L493.59 126.87 L494.48 127.02 L495.37 127.18 L496.26 127.34 L497.15 127.51 L498.03 127.66 L498.92 127.80 L499.80 127.92 L500.69 128.00 L501.54 128.05 L502.36 128.09 L503.17 128.11 L503.98 128.11 L504.79 128.10 L505.62 128.08 L506.48 128.06 L507.38 128.04 L508.33 128.02 L509.34 128.00 L511.00 127.98 L512.80 127.94 L514.72 127.90 L516.73 127.85 L518.80 127.80 L520.92 127.74 L523.05 127.68 L525.18 127.63 L527.27 127.57 L529.30 127.52" stroke="#0000ff" stroke-width="1.00" />
</g>
<rect x="418.40" y="93.90" width="110.90" height="68.20" fill="none" stroke="#2a2a2a" stroke-width="0.90"/>
<path d="M418.40 162.10v-2.60M418.40 93.90v2.60M422.84 162.10v-1.50M422.84 93.90v1.50M427.27 162.10v-1.50M427.27 93.90v1.50M431.71 162.10v-1.50M431.71 93.90v1.50M436.14 162.10v-1.50M436.14 93.90v1.50M440.58 162.10v-2.60M440.58 93.90v2.60M445.02 162.10v-1.50M445.02 93.90v1.50M449.45 162.10v-1.50M449.45 93.90v1.50M453.89 162.10v-1.50M453.89 93.90v1.50M458.32 162.10v-1.50M458.32 93.90v1.50M462.76 162.10v-2.60M462.76 93.90v2.60M467.20 162.10v-1.50M467.20 93.90v1.50M471.63 162.10v-1.50M471.63 93.90v1.50M476.07 162.10v-1.50M476.07 93.90v1.50M480.50 162.10v-1.50M480.50 93.90v1.50M484.94 162.10v-2.60M484.94 93.90v2.60M489.38 162.10v-1.50M489.38 93.90v1.50M493.81 162.10v-1.50M493.81 93.90v1.50M498.25 162.10v-1.50M498.25 93.90v1.50M502.68 162.10v-1.50M502.68 93.90v1.50M507.12 162.10v-2.60M507.12 93.90v2.60M511.56 162.10v-1.50M511.56 93.90v1.50M515.99 162.10v-1.50M515.99 93.90v1.50M520.43 162.10v-1.50M520.43 93.90v1.50M524.86 162.10v-1.50M524.86 93.90v1.50M529.30 162.10v-2.60M529.30 93.90v2.60M418.40 162.10h1.50M529.30 162.10h-1.50M418.40 158.69h1.50M529.30 158.69h-1.50M418.40 155.28h2.60M529.30 155.28h-2.60M418.40 151.87h1.50M529.30 151.87h-1.50M418.40 148.46h1.50M529.30 148.46h-1.50M418.40 145.05h1.50M529.30 145.05h-1.50M418.40 141.64h2.60M529.30 141.64h-2.60M418.40 138.23h1.50M529.30 138.23h-1.50M418.40 134.82h1.50M529.30 134.82h-1.50M418.40 131.41h1.50M529.30 131.41h-1.50M418.40 128.00h2.60M529.30 128.00h-2.60M418.40 124.59h1.50M529.30 124.59h-1.50M418.40 121.18h1.50M529.30 121.18h-1.50M418.40 117.77h1.50M529.30 117.77h-1.50M418.40 114.36h2.60M529.30 114.36h-2.60M418.40 110.95h1.50M529.30 110.95h-1.50M418.40 107.54h1.50M529.30 107.54h-1.50M418.40 104.13h1.50M529.30 104.13h-1.50M418.40 100.72h2.60M529.30 100.72h-2.60M418.40 97.31h1.50M529.30 97.31h-1.50M418.40 93.90h1.50M529.30 93.90h-1.50" stroke="#222" stroke-width="0.80" fill="none"/>
<text x="418.40" y="169.60" text-anchor="middle" font-size="5.00" style="stroke:#1a1a1a;stroke-width:0.12px;fill:#1a1a1a">0</text>
<text x="440.58" y="169.60" text-anchor="middle" font-size="5.00" style="stroke:#1a1a1a;stroke-width:0.12px;fill:#1a1a1a">10</text>
<text x="462.76" y="169.60" text-anchor="middle" font-size="5.00" style="stroke:#1a1a1a;stroke-width:0.12px;fill:#1a1a1a">20</text>
<text x="484.94" y="169.60" text-anchor="middle" font-size="5.00" style="stroke:#1a1a1a;stroke-width:0.12px;fill:#1a1a1a">30</text>
<text x="507.12" y="169.60" text-anchor="middle" font-size="5.00" style="stroke:#1a1a1a;stroke-width:0.12px;fill:#1a1a1a">40</text>
<text x="529.30" y="169.60" text-anchor="middle" font-size="5.00" style="stroke:#1a1a1a;stroke-width:0.12px;fill:#1a1a1a">50</text>
<text x="416.00" y="157.28" text-anchor="end" font-size="5.00" style="stroke:#1a1a1a;stroke-width:0.12px;fill:#1a1a1a">−40</text>
<text x="416.00" y="143.64" text-anchor="end" font-size="5.00" style="stroke:#1a1a1a;stroke-width:0.12px;fill:#1a1a1a">−20</text>
<text x="416.00" y="130.00" text-anchor="end" font-size="5.00" style="stroke:#1a1a1a;stroke-width:0.12px;fill:#1a1a1a">0</text>
<text x="416.00" y="116.36" text-anchor="end" font-size="5.00" style="stroke:#1a1a1a;stroke-width:0.12px;fill:#1a1a1a">20</text>
<text x="416.00" y="102.72" text-anchor="end" font-size="5.00" style="stroke:#1a1a1a;stroke-width:0.12px;fill:#1a1a1a">40</text>
<rect x="407.00" y="334.70" width="135.60" height="82.70" fill="#fff"/>
<clipPath id="c5"><rect x="421.00" y="335.70" width="119.60" height="73.70"/></clipPath>
<line x1="421.00" y1="372.55" x2="540.60" y2="372.55" stroke="#a8a8a8" stroke-width="1.20"/>
<g clip-path="url(#c5)" fill="none">
<path d="M459.99 324.64 L460.09 325.75 L460.17 326.85 L460.22 327.96 L460.28 329.06 L460.34 330.16 L460.42 331.27 L460.54 332.37 L460.70 333.48 L460.91 334.59 L461.19 335.70 L461.60 336.94 L462.10 338.17 L462.69 339.40 L463.33 340.64 L464.01 341.87 L464.70 343.12 L465.38 344.37 L466.03 345.64 L466.64 346.92 L467.17 348.23 L467.65 349.60 L468.10 350.99 L468.52 352.40 L468.92 353.82 L469.29 355.26 L469.65 356.70 L469.99 358.15 L470.33 359.61 L470.66 361.07 L470.99 362.53 L471.32 364.02 L471.63 365.52 L471.93 367.03 L472.22 368.55 L472.50 370.07 L472.77 371.60 L473.04 373.12 L473.31 374.65 L473.58 376.18 L473.86 377.71 L474.16 379.25 L474.45 380.80 L474.76 382.34 L475.06 383.89 L475.36 385.44 L475.65 386.99 L475.94 388.54 L476.22 390.09 L476.48 391.64 L476.73 393.19 L476.97 394.73 L477.19 396.30 L477.41 397.89 L477.62 399.48 L477.82 401.06 L478.00 402.62 L478.18 404.14 L478.35 405.62 L478.50 407.03 L478.65 408.37 L478.74 409.27 L478.83 410.05 L478.91 410.77 L478.98 411.45 L479.04 412.14 L479.11 412.85 L479.17 413.64 L479.23 414.53 L479.30 415.56 L479.36 416.77 L479.62 422.22 L479.89 429.27 L480.17 437.74 L480.45 447.42 L480.73 458.11 L481.00 469.63 L481.27 481.76 L481.53 494.33 L481.77 507.12 L482.00 519.95 L482.32 541.95 L482.61 566.17 L482.86 592.20 L483.08 619.67 L483.29 648.17 L483.48 677.32 L483.66 706.74 L483.85 736.02 L484.05 764.79 L484.27 792.64 L485.46 -50.49 L485.46 -50.49 L485.59 -35.05 L485.72 -19.56 L485.84 -4.03 L485.97 11.50 L486.09 27.01 L486.22 42.49 L486.35 57.90 L486.49 73.23 L486.63 88.46 L486.78 103.55 L486.93 117.90 L487.08 132.35 L487.23 146.82 L487.38 161.25 L487.54 175.56 L487.71 189.68 L487.88 203.54 L488.06 217.07 L488.25 230.19 L488.45 242.84 L488.62 252.79 L488.77 262.78 L488.93 272.69 L489.09 282.44 L489.25 291.93 L489.43 301.05 L489.63 309.72 L489.85 317.84 L490.09 325.30 L490.37 332.01 L490.53 335.33 L490.71 338.39 L490.89 341.23 L491.09 343.89 L491.28 346.43 L491.48 348.89 L491.68 351.31 L491.88 353.73 L492.08 356.20 L492.28 358.77 L492.47 361.33 L492.65 363.93 L492.82 366.56 L493.00 369.18 L493.18 371.78 L493.36 374.34 L493.55 376.82 L493.75 379.21 L493.97 381.48 L494.20 383.60 L494.36 385.12 L494.50 386.74 L494.65 388.38 L494.80 390.00 L494.95 391.54 L495.12 392.94 L495.32 394.14 L495.54 395.09 L495.80 395.72 L496.11 395.99 L496.35 395.94 L496.61 395.72 L496.90 395.36 L497.20 394.88 L497.51 394.31 L497.82 393.68 L498.13 393.00 L498.43 392.31 L498.71 391.62 L498.98 390.97 L499.31 390.03 L499.61 388.98 L499.88 387.85 L500.13 386.66 L500.38 385.43 L500.62 384.20 L500.88 382.99 L501.17 381.82 L501.49 380.71 L501.85 379.70 L502.17 378.89 L502.50 378.04 L502.84 377.18 L503.19 376.33 L503.56 375.52 L503.94 374.78 L504.34 374.13 L504.77 373.60 L505.21 373.21 L505.68 372.99 L506.10 372.95 L506.54 373.04 L507.01 373.22 L507.49 373.49 L507.98 373.83 L508.48 374.22 L508.98 374.63 L509.48 375.06 L509.98 375.48 L510.46 375.87 L511.03 376.34 L511.59 376.86 L512.14 377.42 L512.69 378.01 L513.24 378.62 L513.80 379.23 L514.37 379.84 L514.96 380.44 L515.57 381.01 L516.20 381.54 L516.90 382.09 L517.62 382.66 L518.36 383.22 L519.11 383.77 L519.89 384.30 L520.67 384.81 L521.46 385.28 L522.26 385.71 L523.06 386.09 L523.86 386.41 L524.60 386.64 L525.34 386.82 L526.09 386.96 L526.84 387.06 L527.60 387.13 L528.37 387.18 L529.15 387.21 L529.93 387.24 L530.71 387.26 L531.51 387.29 L532.39 387.31 L533.28 387.31 L534.18 387.30 L535.09 387.27 L536.00 387.22 L536.93 387.18 L537.85 387.12 L538.77 387.08 L539.69 387.03 L540.60 387.00" stroke="#ff0000" stroke-width="1.25" stroke-dasharray="2.4 1.0"/>
<path d="M423.87 320.96 L423.91 322.44 L423.93 323.92 L423.95 325.41 L423.96 326.89 L423.98 328.38 L424.01 329.86 L424.06 331.33 L424.12 332.80 L424.22 334.26 L424.35 335.70 L424.50 337.09 L424.67 338.48 L424.86 339.88 L425.07 341.27 L425.29 342.65 L425.54 344.01 L425.80 345.36 L426.09 346.67 L426.41 347.95 L426.74 349.19 L427.04 350.25 L427.33 351.32 L427.62 352.39 L427.92 353.44 L428.25 354.46 L428.61 355.44 L429.01 356.38 L429.47 357.25 L429.98 358.05 L430.57 358.77 L431.18 359.33 L431.88 359.81 L432.64 360.22 L433.45 360.57 L434.28 360.89 L435.13 361.19 L435.96 361.49 L436.77 361.80 L437.53 362.14 L438.22 362.53 L438.77 362.88 L439.30 363.22 L439.81 363.57 L440.31 363.92 L440.79 364.28 L441.26 364.65 L441.71 365.04 L442.16 365.46 L442.59 365.89 L443.01 366.36 L443.46 366.92 L443.88 367.51 L444.28 368.14 L444.67 368.79 L445.04 369.46 L445.40 370.16 L445.76 370.86 L446.11 371.57 L446.47 372.28 L446.83 372.99 L447.23 373.85 L447.61 374.83 L447.99 375.89 L448.36 376.97 L448.72 378.04 L449.10 379.03 L449.47 379.89 L449.86 380.59 L450.25 381.05 L450.66 381.25 L451.02 381.17 L451.37 380.88 L451.73 380.44 L452.10 379.86 L452.47 379.20 L452.84 378.48 L453.23 377.75 L453.64 377.05 L454.05 376.41 L454.49 375.87 L454.93 375.37 L455.39 374.86 L455.85 374.33 L456.32 373.81 L456.81 373.32 L457.31 372.86 L457.83 372.45 L458.37 372.10 L458.93 371.84 L459.51 371.67 L460.19 371.61 L460.90 371.67 L461.64 371.85 L462.41 372.10 L463.20 372.42 L463.99 372.76 L464.79 373.12 L465.60 373.47 L466.39 373.78 L467.17 374.02 L467.94 374.24 L468.73 374.46 L469.52 374.68 L470.32 374.90 L471.12 375.11 L471.91 375.31 L472.68 375.49 L473.42 375.64 L474.14 375.77 L474.82 375.87 L475.29 375.92 L475.74 375.96 L476.16 375.99 L476.57 376.01 L476.97 376.01 L477.38 376.01 L477.79 375.99 L478.21 375.96 L478.65 375.92 L479.13 375.87 L479.80 375.77 L480.51 375.64 L481.24 375.48 L482.00 375.29 L482.77 375.09 L483.56 374.88 L484.36 374.66 L485.16 374.44 L485.97 374.23 L486.78 374.02 L487.69 373.80 L488.62 373.55 L489.57 373.30 L490.53 373.05 L491.49 372.79 L492.46 372.54 L493.44 372.30 L494.41 372.07 L495.38 371.86 L496.35 371.67 L497.30 371.49 L498.25 371.33 L499.21 371.17 L500.17 371.03 L501.12 370.89 L502.08 370.78 L503.04 370.67 L504.00 370.59 L504.96 370.53 L505.92 370.49 L506.87 370.47 L507.83 370.48 L508.79 370.52 L509.74 370.57 L510.70 370.64 L511.66 370.72 L512.61 370.81 L513.57 370.90 L514.53 370.99 L515.48 371.08 L516.43 371.17 L517.36 371.28 L518.28 371.39 L519.20 371.52 L520.12 371.64 L521.06 371.77 L522.01 371.89 L522.99 372.00 L524.00 372.10 L525.05 372.18 L526.45 372.27 L527.92 372.33 L529.44 372.38 L531.00 372.41 L532.59 372.44 L534.20 372.46 L535.82 372.48 L537.43 372.49 L539.03 372.52 L540.60 372.55" stroke="#000000" stroke-width="0.95" stroke-dasharray="2.4 0.8"/>
<path d="M423.27 313.59 L423.39 364.44 L423.39 364.44 L423.48 364.63 L423.57 364.82 L423.66 365.02 L423.75 365.21 L423.83 365.41 L423.92 365.60 L424.02 365.78 L424.12 365.96 L424.23 366.13 L424.35 366.29 L424.46 366.42 L424.58 366.55 L424.69 366.67 L424.81 366.78 L424.94 366.89 L425.07 366.99 L425.22 367.09 L425.39 367.19 L425.58 367.29 L425.78 367.39 L426.34 367.60 L427.02 367.80 L427.81 367.98 L428.67 368.14 L429.60 368.31 L430.57 368.47 L431.55 368.64 L432.53 368.82 L433.49 369.02 L434.40 369.23 L435.34 369.49 L436.30 369.77 L437.26 370.06 L438.24 370.36 L439.21 370.67 L440.18 370.99 L441.15 371.30 L442.10 371.60 L443.04 371.90 L443.96 372.18 L444.78 372.44 L445.59 372.71 L446.38 372.98 L447.17 373.26 L447.95 373.52 L448.73 373.77 L449.51 374.00 L450.29 374.19 L451.07 374.35 L451.86 374.47 L452.62 374.53 L453.39 374.55 L454.15 374.54 L454.92 374.50 L455.68 374.44 L456.45 374.37 L457.22 374.28 L457.98 374.19 L458.75 374.10 L459.51 374.02 L460.28 373.95 L461.04 373.86 L461.81 373.77 L462.58 373.67 L463.34 373.56 L464.11 373.45 L464.87 373.34 L465.64 373.23 L466.40 373.11 L467.17 372.99 L467.94 372.87 L468.72 372.74 L469.51 372.59 L470.30 372.45 L471.09 372.31 L471.87 372.16 L472.64 372.02 L473.39 371.89 L474.12 371.77 L474.82 371.67 L475.35 371.59 L475.85 371.51 L476.33 371.43 L476.79 371.36 L477.25 371.29 L477.71 371.23 L478.20 371.18 L478.70 371.14 L479.25 371.10 L479.84 371.08 L480.87 371.07 L481.98 371.10 L483.15 371.16 L484.39 371.24 L485.68 371.34 L487.02 371.45 L488.40 371.56 L489.83 371.66 L491.28 371.75 L492.76 371.81 L494.86 371.88 L497.08 371.94 L499.40 371.98 L501.80 372.02 L504.26 372.06 L506.76 372.09 L509.27 372.11 L511.78 372.13 L514.25 372.16 L516.68 372.18 L519.07 372.21 L521.46 372.23 L523.86 372.24 L526.25 372.26 L528.64 372.27 L531.03 372.28 L533.42 372.29 L535.82 372.30 L538.21 372.32 L540.60 372.33" stroke="#0000ff" stroke-width="1.00" />
</g>
<rect x="421.00" y="335.70" width="119.60" height="73.70" fill="none" stroke="#2a2a2a" stroke-width="0.90"/>
<path d="M421.00 409.40v-2.60M421.00 335.70v2.60M425.78 409.40v-1.50M425.78 335.70v1.50M430.57 409.40v-1.50M430.57 335.70v1.50M435.35 409.40v-1.50M435.35 335.70v1.50M440.14 409.40v-1.50M440.14 335.70v1.50M444.92 409.40v-2.60M444.92 335.70v2.60M449.70 409.40v-1.50M449.70 335.70v1.50M454.49 409.40v-1.50M454.49 335.70v1.50M459.27 409.40v-1.50M459.27 335.70v1.50M464.06 409.40v-1.50M464.06 335.70v1.50M468.84 409.40v-2.60M468.84 335.70v2.60M473.62 409.40v-1.50M473.62 335.70v1.50M478.41 409.40v-1.50M478.41 335.70v1.50M483.19 409.40v-1.50M483.19 335.70v1.50M487.98 409.40v-1.50M487.98 335.70v1.50M492.76 409.40v-2.60M492.76 335.70v2.60M497.54 409.40v-1.50M497.54 335.70v1.50M502.33 409.40v-1.50M502.33 335.70v1.50M507.11 409.40v-1.50M507.11 335.70v1.50M511.90 409.40v-1.50M511.90 335.70v1.50M516.68 409.40v-2.60M516.68 335.70v2.60M521.46 409.40v-1.50M521.46 335.70v1.50M526.25 409.40v-1.50M526.25 335.70v1.50M531.03 409.40v-1.50M531.03 335.70v1.50M535.82 409.40v-1.50M535.82 335.70v1.50M540.60 409.40v-2.60M540.60 335.70v2.60M421.00 409.40h1.50M540.60 409.40h-1.50M421.00 405.71h1.50M540.60 405.71h-1.50M421.00 402.03h2.60M540.60 402.03h-2.60M421.00 398.34h1.50M540.60 398.34h-1.50M421.00 394.66h1.50M540.60 394.66h-1.50M421.00 390.97h1.50M540.60 390.97h-1.50M421.00 387.29h2.60M540.60 387.29h-2.60M421.00 383.60h1.50M540.60 383.60h-1.50M421.00 379.92h1.50M540.60 379.92h-1.50M421.00 376.23h1.50M540.60 376.23h-1.50M421.00 372.55h2.60M540.60 372.55h-2.60M421.00 368.87h1.50M540.60 368.87h-1.50M421.00 365.18h1.50M540.60 365.18h-1.50M421.00 361.50h1.50M540.60 361.50h-1.50M421.00 357.81h2.60M540.60 357.81h-2.60M421.00 354.12h1.50M540.60 354.12h-1.50M421.00 350.44h1.50M540.60 350.44h-1.50M421.00 346.75h1.50M540.60 346.75h-1.50M421.00 343.07h2.60M540.60 343.07h-2.60M421.00 339.38h1.50M540.60 339.38h-1.50M421.00 335.70h1.50M540.60 335.70h-1.50" stroke="#222" stroke-width="0.80" fill="none"/>
<text x="421.00" y="416.80" text-anchor="middle" font-size="5.00" style="stroke:#1a1a1a;stroke-width:0.12px;fill:#1a1a1a">0</text>
<text x="444.92" y="416.80" text-anchor="middle" font-size="5.00" style="stroke:#1a1a1a;stroke-width:0.12px;fill:#1a1a1a">10</text>
<text x="468.84" y="416.80" text-anchor="middle" font-size="5.00" style="stroke:#1a1a1a;stroke-width:0.12px;fill:#1a1a1a">20</text>
<text x="492.76" y="416.80" text-anchor="middle" font-size="5.00" style="stroke:#1a1a1a;stroke-width:0.12px;fill:#1a1a1a">30</text>
<text x="516.68" y="416.80" text-anchor="middle" font-size="5.00" style="stroke:#1a1a1a;stroke-width:0.12px;fill:#1a1a1a">40</text>
<text x="540.60" y="416.80" text-anchor="middle" font-size="5.00" style="stroke:#1a1a1a;stroke-width:0.12px;fill:#1a1a1a">50</text>
<text x="418.60" y="404.03" text-anchor="end" font-size="5.00" style="stroke:#1a1a1a;stroke-width:0.12px;fill:#1a1a1a">−40</text>
<text x="418.60" y="389.29" text-anchor="end" font-size="5.00" style="stroke:#1a1a1a;stroke-width:0.12px;fill:#1a1a1a">−20</text>
<text x="418.60" y="374.55" text-anchor="end" font-size="5.00" style="stroke:#1a1a1a;stroke-width:0.12px;fill:#1a1a1a">0</text>
<text x="418.60" y="359.81" text-anchor="end" font-size="5.00" style="stroke:#1a1a1a;stroke-width:0.12px;fill:#1a1a1a">20</text>
<text x="418.60" y="345.07" text-anchor="end" font-size="5.00" style="stroke:#1a1a1a;stroke-width:0.12px;fill:#1a1a1a">40</text>
<text x="475.8" y="179.4" text-anchor="middle" font-size="3.8" style="stroke:none;fill:#555">ω/T</text>
<line x1="254.10" y1="140.80" x2="269.80" y2="140.80" stroke="#ff0000" stroke-width="1.80" stroke-dasharray="6.6 2.5"/>
<text transform="translate(276.00 144.40) scale(1.085 1)" font-size="10.80">T/T<tspan font-size="8.10" dy="3.00">c</tspan><tspan dy="-3.00">=0.3</tspan></text>
<line x1="254.10" y1="153.00" x2="272.70" y2="153.00" stroke="#000000" stroke-width="1.80" stroke-dasharray="5.9 2.7 1.7 2.5"/>
<text transform="translate(276.00 156.60) scale(1.085 1)" font-size="10.80">T/T<tspan font-size="8.10" dy="3.00">c</tspan><tspan dy="-3.00">=0.6</tspan></text>
<line x1="254.10" y1="165.70" x2="272.30" y2="165.70" stroke="#0000ff" stroke-width="1.60" />
<text transform="translate(276.00 169.30) scale(1.085 1)" font-size="10.80">T/T<tspan font-size="8.10" dy="3.00">c</tspan><tspan dy="-3.00">=0.9</tspan></text>
<line x1="607.10" y1="138.70" x2="622.80" y2="138.70" stroke="#ff0000" stroke-width="1.80" stroke-dasharray="6.6 2.5"/>
<text transform="translate(628.00 142.30) scale(1.085 1)" font-size="10.80">T/T<tspan font-size="8.10" dy="3.00">c</tspan><tspan dy="-3.00">=0.3</tspan></text>
<line x1="607.10" y1="151.30" x2="625.70" y2="151.30" stroke="#000000" stroke-width="1.80" stroke-dasharray="5.9 2.7 1.7 2.5"/>
<text transform="translate(628.00 154.90) scale(1.085 1)" font-size="10.80">T/T<tspan font-size="8.10" dy="3.00">c</tspan><tspan dy="-3.00">=0.6</tspan></text>
<line x1="607.10" y1="163.90" x2="625.30" y2="163.90" stroke="#0000ff" stroke-width="1.60" />
<text transform="translate(628.00 167.50) scale(1.085 1)" font-size="10.80">T/T<tspan font-size="8.10" dy="3.00">c</tspan><tspan dy="-3.00">=0.9</tspan></text>
<line x1="250.80" y1="380.00" x2="266.50" y2="380.00" stroke="#ff0000" stroke-width="1.80" stroke-dasharray="6.6 2.5"/>
<text transform="translate(272.10 383.60) scale(1.085 1)" font-size="10.80">T/T<tspan font-size="8.10" dy="3.00">c</tspan><tspan dy="-3.00">=0.3</tspan></text>
<line x1="250.80" y1="392.90" x2="269.40" y2="392.90" stroke="#000000" stroke-width="1.80" stroke-dasharray="5.9 2.7 1.7 2.5"/>
<text transform="translate(272.10 396.50) scale(1.085 1)" font-size="10.80">T/T<tspan font-size="8.10" dy="3.00">c</tspan><tspan dy="-3.00">=0.6</tspan></text>
<line x1="250.80" y1="405.30" x2="269.00" y2="405.30" stroke="#0000ff" stroke-width="1.60" />
<text transform="translate(272.10 408.90) scale(1.085 1)" font-size="10.80">T/T<tspan font-size="8.10" dy="3.00">c</tspan><tspan dy="-3.00">=0.9</tspan></text>
<line x1="609.50" y1="381.10" x2="625.20" y2="381.10" stroke="#ff0000" stroke-width="1.80" stroke-dasharray="6.6 2.5"/>
<text transform="translate(631.10 384.70) scale(1.085 1)" font-size="10.80">T/T<tspan font-size="8.10" dy="3.00">c</tspan><tspan dy="-3.00">=0.3</tspan></text>
<line x1="609.50" y1="393.80" x2="628.10" y2="393.80" stroke="#000000" stroke-width="1.80" stroke-dasharray="5.9 2.7 1.7 2.5"/>
<text transform="translate(631.10 397.40) scale(1.085 1)" font-size="10.80">T/T<tspan font-size="8.10" dy="3.00">c</tspan><tspan dy="-3.00">=0.6</tspan></text>
<line x1="609.50" y1="406.10" x2="627.70" y2="406.10" stroke="#0000ff" stroke-width="1.60" />
<text transform="translate(631.10 409.70) scale(1.085 1)" font-size="10.80">T/T<tspan font-size="8.10" dy="3.00">c</tspan><tspan dy="-3.00">=0.9</tspan></text>
<g transform="translate(11.70 91.50) rotate(-90)">
<text x="-13.7" y="0" font-size="10.80">Im[</text>
<text x="5.1" y="0" text-anchor="middle" style="font-family:'Liberation Serif', serif;font-style:italic" font-size="13.50">σ</text>
<text x="11.0" y="0" text-anchor="middle" font-size="10.80">]</text>
</g>
<g transform="translate(364.20 90.50) rotate(-90)">
<text x="-13.7" y="0" font-size="10.80">Im[</text>
<text x="5.1" y="0" text-anchor="middle" style="font-family:'Liberation Serif', serif;font-style:italic" font-size="13.50">σ</text>
<text x="11.0" y="0" text-anchor="middle" font-size="10.80">]</text>
</g>
<g transform="translate(7.80 332.40) rotate(-90)">
<text x="-13.7" y="0" font-size="10.80">Im[</text>
<text x="5.1" y="0" text-anchor="middle" style="font-family:'Liberation Serif', serif;font-style:italic" font-size="13.50">σ</text>
<text x="11.0" y="0" text-anchor="middle" font-size="10.80">]</text>
</g>
<g transform="translate(362.30 330.50) rotate(-90)">
<text x="-13.7" y="0" font-size="10.80">Im[</text>
<text x="5.1" y="0" text-anchor="middle" style="font-family:'Liberation Serif', serif;font-style:italic" font-size="13.50">σ</text>
<text x="11.0" y="0" text-anchor="middle" font-size="10.80">]</text>
</g>
<text x="182.55" y="208.80" text-anchor="middle" style="font-family:'Liberation Serif', serif;font-style:italic" font-size="11.00">ω</text>
<text x="187.85" y="210.10" text-anchor="middle" style="font-family:'Liberation Serif', serif" font-size="14.30">/</text>
<text x="192.85" y="208.80" text-anchor="middle" font-size="12.32">T</text>
<text x="536.30" y="209.20" text-anchor="middle" style="font-family:'Liberation Serif', serif;font-style:italic" font-size="11.00">ω</text>
<text x="541.60" y="210.50" text-anchor="middle" style="font-family:'Liberation Serif', serif" font-size="14.30">/</text>
<text x="546.60" y="209.20" text-anchor="middle" font-size="12.32">T</text>
<text x="178.85" y="450.60" text-anchor="middle" style="font-family:'Liberation Serif', serif;font-style:italic" font-size="11.00">ω</text>
<text x="184.15" y="451.90" text-anchor="middle" style="font-family:'Liberation Serif', serif" font-size="14.30">/</text>
<text x="189.15" y="450.60" text-anchor="middle" font-size="12.32">T</text>
<text x="536.30" y="451.30" text-anchor="middle" style="font-family:'Liberation Serif', serif;font-style:italic" font-size="11.00">ω</text>
<text x="541.60" y="452.60" text-anchor="middle" style="font-family:'Liberation Serif', serif" font-size="14.30">/</text>
<text x="546.60" y="451.30" text-anchor="middle" font-size="12.32">T</text>
<text x="119.20" y="226.60" text-anchor="middle" style="font-family:'Liberation Serif', serif;font-weight:bold;" font-size="14.00" textLength="16.40" lengthAdjust="spacingAndGlyphs">(a)</text>
<text x="137.00" y="226.60" text-anchor="middle" style="font-family:'Liberation Serif', serif;font-style:italic;" font-size="14.00">b</text>
<text x="148.60" y="226.60" text-anchor="middle" style="font-family:'Liberation Serif', serif;" font-size="14.00" textLength="9.60" lengthAdjust="spacingAndGlyphs">=</text>
<text x="161.65" y="226.60" text-anchor="middle" style="font-family:'Liberation Serif', serif;" font-size="14.00">0</text>
<text x="166.60" y="226.60" text-anchor="middle" style="font-family:'Liberation Serif', serif;" font-size="14.00">,</text>
<text x="177.80" y="226.60" text-anchor="middle" style="font-family:'Liberation Serif', serif;font-style:italic;" font-size="14.00" textLength="9.00" lengthAdjust="spacingAndGlyphs">α</text>
<text x="191.35" y="226.60" text-anchor="middle" style="font-family:'Liberation Serif', serif;" font-size="14.00" textLength="10.00" lengthAdjust="spacingAndGlyphs">=</text>
<text x="212.85" y="226.60" text-anchor="middle" style="font-family:'Liberation Serif', serif;" font-size="14.00" textLength="24.40" lengthAdjust="spacingAndGlyphs">0.08</text>
<text x="464.65" y="226.60" text-anchor="middle" style="font-family:'Liberation Serif', serif;font-weight:bold;" font-size="14.00" textLength="17.40" lengthAdjust="spacingAndGlyphs">(b)</text>
<text x="482.30" y="226.60" text-anchor="middle" style="font-family:'Liberation Serif', serif;font-style:italic;" font-size="14.00">b</text>
<text x="494.25" y="226.60" text-anchor="middle" style="font-family:'Liberation Serif', serif;" font-size="14.00" textLength="10.20" lengthAdjust="spacingAndGlyphs">=</text>
<text x="515.35" y="226.60" text-anchor="middle" style="font-family:'Liberation Serif', serif;" font-size="14.00" textLength="23.80" lengthAdjust="spacingAndGlyphs">0.04</text>
<text x="530.30" y="226.60" text-anchor="middle" style="font-family:'Liberation Serif', serif;" font-size="14.00">,</text>
<text x="540.75" y="226.60" text-anchor="middle" style="font-family:'Liberation Serif', serif;font-style:italic;" font-size="14.00" textLength="9.00" lengthAdjust="spacingAndGlyphs">α</text>
<text x="554.25" y="226.60" text-anchor="middle" style="font-family:'Liberation Serif', serif;" font-size="14.00" textLength="10.00" lengthAdjust="spacingAndGlyphs">=</text>
<text x="575.90" y="226.60" text-anchor="middle" style="font-family:'Liberation Serif', serif;" font-size="14.00" textLength="24.80" lengthAdjust="spacingAndGlyphs">0.08</text>
<text x="111.85" y="468.00" text-anchor="middle" style="font-family:'Liberation Serif', serif;font-weight:bold;" font-size="14.00" textLength="15.20" lengthAdjust="spacingAndGlyphs">(c)</text>
<text x="129.05" y="468.00" text-anchor="middle" style="font-family:'Liberation Serif', serif;font-style:italic;" font-size="14.00">b</text>
<text x="140.45" y="468.00" text-anchor="middle" style="font-family:'Liberation Serif', serif;" font-size="14.00" textLength="9.90" lengthAdjust="spacingAndGlyphs">=</text>
<text x="152.55" y="468.00" text-anchor="middle" style="font-family:'Liberation Serif', serif;" font-size="14.00">0</text>
<text x="157.60" y="468.00" text-anchor="middle" style="font-family:'Liberation Serif', serif;" font-size="14.00">,</text>
<text x="169.55" y="468.00" text-anchor="middle" style="font-family:'Liberation Serif', serif;font-style:italic;" font-size="14.00" textLength="8.80" lengthAdjust="spacingAndGlyphs">α</text>
<text x="183.15" y="468.00" text-anchor="middle" style="font-family:'Liberation Serif', serif;" font-size="14.00" textLength="10.30" lengthAdjust="spacingAndGlyphs">=</text>
<text x="198.05" y="468.00" text-anchor="middle" style="font-family:'Liberation Serif', serif;" font-size="14.00" textLength="9.00" lengthAdjust="spacingAndGlyphs">−</text>
<text x="214.90" y="468.00" text-anchor="middle" style="font-family:'Liberation Serif', serif;" font-size="14.00" textLength="24.40" lengthAdjust="spacingAndGlyphs">0.08</text>
<text x="457.35" y="468.00" text-anchor="middle" style="font-family:'Liberation Serif', serif;font-weight:bold;" font-size="14.00" textLength="17.50" lengthAdjust="spacingAndGlyphs">(d)</text>
<text x="474.35" y="468.00" text-anchor="middle" style="font-family:'Liberation Serif', serif;font-style:italic;" font-size="14.00">b</text>
<text x="486.40" y="468.00" text-anchor="middle" style="font-family:'Liberation Serif', serif;" font-size="14.00" textLength="9.80" lengthAdjust="spacingAndGlyphs">=</text>
<text x="507.30" y="468.00" text-anchor="middle" style="font-family:'Liberation Serif', serif;" font-size="14.00" textLength="23.40" lengthAdjust="spacingAndGlyphs">0.04</text>
<text x="521.60" y="468.00" text-anchor="middle" style="font-family:'Liberation Serif', serif;" font-size="14.00">,</text>
<text x="533.25" y="468.00" text-anchor="middle" style="font-family:'Liberation Serif', serif;font-style:italic;" font-size="14.00" textLength="9.20" lengthAdjust="spacingAndGlyphs">α</text>
<text x="546.55" y="468.00" text-anchor="middle" style="font-family:'Liberation Serif', serif;" font-size="14.00" textLength="10.20" lengthAdjust="spacingAndGlyphs">=</text>
<text x="561.35" y="468.00" text-anchor="middle" style="font-family:'Liberation Serif', serif;" font-size="14.00" textLength="9.20" lengthAdjust="spacingAndGlyphs">−</text>
<text x="578.60" y="468.00" text-anchor="middle" style="font-family:'Liberation Serif', serif;" font-size="14.00" textLength="24.20" lengthAdjust="spacingAndGlyphs">0.08</text>
</svg></body></html>
